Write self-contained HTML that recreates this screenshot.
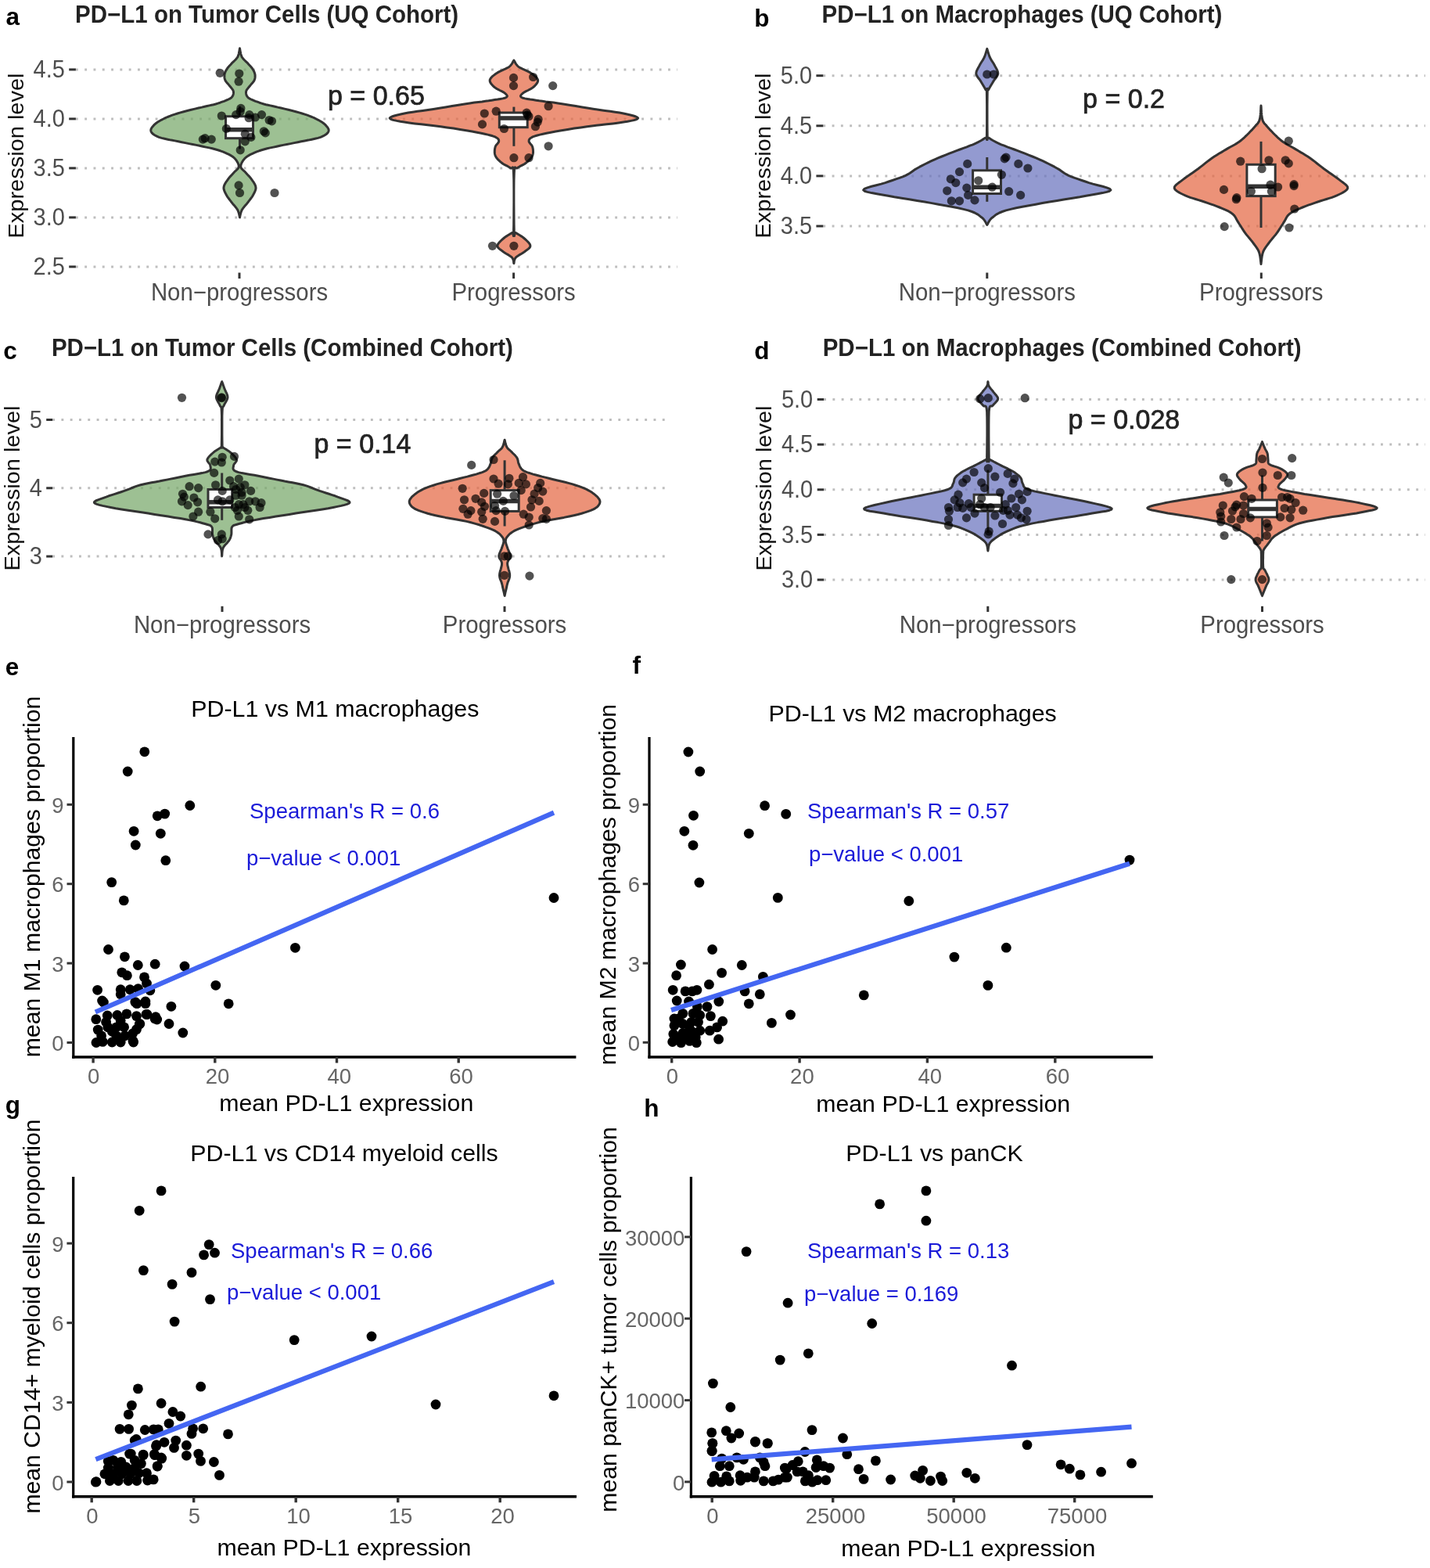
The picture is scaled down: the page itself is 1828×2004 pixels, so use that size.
<!DOCTYPE html>
<html><head><meta charset="utf-8"><title>PD-L1 figure</title>
<style>html,body{margin:0;padding:0;background:#fff;} svg{display:block;} text{font-family:"Liberation Sans", Arial, Helvetica, sans-serif;}</style>
</head><body>
<svg xmlns="http://www.w3.org/2000/svg" width="1828" height="2004" viewBox="0 0 1828 2004">
<rect width="1828" height="2004" fill="#fff"/>
<text x="7.4" y="32.0" font-size="31.5" fill="#000" font-weight="bold">a</text>
<text x="0" y="0" font-size="29.5" fill="#222" font-weight="bold" transform="translate(96.10 29.10) scale(1 1.045)">PD−L1 on Tumor Cells (UQ Cohort)</text>
<line x1="96.9" y1="88.9" x2="866.0" y2="88.9" stroke="#BEBEBE" stroke-width="3" stroke-dasharray="2.9 8.4"/>
<line x1="88.2" y1="88.9" x2="96.9" y2="88.9" stroke="#333" stroke-width="3"/>
<text x="0" y="0" font-size="29" fill="#4D4D4D" text-anchor="end" transform="translate(82.90 99.20) scale(1 1.055)">4.5</text>
<line x1="96.9" y1="151.9" x2="866.0" y2="151.9" stroke="#BEBEBE" stroke-width="3" stroke-dasharray="2.9 8.4"/>
<line x1="88.2" y1="151.9" x2="96.9" y2="151.9" stroke="#333" stroke-width="3"/>
<text x="0" y="0" font-size="29" fill="#4D4D4D" text-anchor="end" transform="translate(82.90 162.20) scale(1 1.055)">4.0</text>
<line x1="96.9" y1="214.9" x2="866.0" y2="214.9" stroke="#BEBEBE" stroke-width="3" stroke-dasharray="2.9 8.4"/>
<line x1="88.2" y1="214.9" x2="96.9" y2="214.9" stroke="#333" stroke-width="3"/>
<text x="0" y="0" font-size="29" fill="#4D4D4D" text-anchor="end" transform="translate(82.90 225.20) scale(1 1.055)">3.5</text>
<line x1="96.9" y1="277.9" x2="866.0" y2="277.9" stroke="#BEBEBE" stroke-width="3" stroke-dasharray="2.9 8.4"/>
<line x1="88.2" y1="277.9" x2="96.9" y2="277.9" stroke="#333" stroke-width="3"/>
<text x="0" y="0" font-size="29" fill="#4D4D4D" text-anchor="end" transform="translate(82.90 288.20) scale(1 1.055)">3.0</text>
<line x1="96.9" y1="340.9" x2="866.0" y2="340.9" stroke="#BEBEBE" stroke-width="3" stroke-dasharray="2.9 8.4"/>
<line x1="88.2" y1="340.9" x2="96.9" y2="340.9" stroke="#333" stroke-width="3"/>
<text x="0" y="0" font-size="29" fill="#4D4D4D" text-anchor="end" transform="translate(82.90 351.20) scale(1 1.055)">2.5</text>
<line x1="306.0" y1="348.5" x2="306.0" y2="356.0" stroke="#333" stroke-width="3"/>
<text x="0" y="0" font-size="29.4" fill="#4D4D4D" text-anchor="middle" transform="translate(306.00 383.70) scale(1 1.055)">Non−progressors</text>
<line x1="656.6" y1="348.5" x2="656.6" y2="356.0" stroke="#333" stroke-width="3"/>
<text x="0" y="0" font-size="29.4" fill="#4D4D4D" text-anchor="middle" transform="translate(656.60 383.70) scale(1 1.055)">Progressors</text>
<text x="0" y="0" font-size="27.5" fill="#111" text-anchor="middle" transform="translate(29.50 199.00) scale(1 1.055) rotate(-90)">Expression level</text>
<text x="964.2" y="34.0" font-size="31.5" fill="#000" font-weight="bold">b</text>
<text x="0" y="0" font-size="29.5" fill="#222" font-weight="bold" transform="translate(1050.50 29.30) scale(1 1.045)">PD−L1 on Macrophages (UQ Cohort)</text>
<line x1="1052.3" y1="96.7" x2="1822.0" y2="96.7" stroke="#BEBEBE" stroke-width="3" stroke-dasharray="2.9 8.4"/>
<line x1="1043.4" y1="96.7" x2="1052.3" y2="96.7" stroke="#333" stroke-width="3"/>
<text x="0" y="0" font-size="29" fill="#4D4D4D" text-anchor="end" transform="translate(1038.10 107.00) scale(1 1.055)">5.0</text>
<line x1="1052.3" y1="160.8" x2="1822.0" y2="160.8" stroke="#BEBEBE" stroke-width="3" stroke-dasharray="2.9 8.4"/>
<line x1="1043.4" y1="160.8" x2="1052.3" y2="160.8" stroke="#333" stroke-width="3"/>
<text x="0" y="0" font-size="29" fill="#4D4D4D" text-anchor="end" transform="translate(1038.10 171.10) scale(1 1.055)">4.5</text>
<line x1="1052.3" y1="224.9" x2="1822.0" y2="224.9" stroke="#BEBEBE" stroke-width="3" stroke-dasharray="2.9 8.4"/>
<line x1="1043.4" y1="224.9" x2="1052.3" y2="224.9" stroke="#333" stroke-width="3"/>
<text x="0" y="0" font-size="29" fill="#4D4D4D" text-anchor="end" transform="translate(1038.10 235.20) scale(1 1.055)">4.0</text>
<line x1="1052.3" y1="289.0" x2="1822.0" y2="289.0" stroke="#BEBEBE" stroke-width="3" stroke-dasharray="2.9 8.4"/>
<line x1="1043.4" y1="289.0" x2="1052.3" y2="289.0" stroke="#333" stroke-width="3"/>
<text x="0" y="0" font-size="29" fill="#4D4D4D" text-anchor="end" transform="translate(1038.10 299.30) scale(1 1.055)">3.5</text>
<line x1="1261.8" y1="348.5" x2="1261.8" y2="356.0" stroke="#333" stroke-width="3"/>
<text x="0" y="0" font-size="29.4" fill="#4D4D4D" text-anchor="middle" transform="translate(1261.80 383.50) scale(1 1.055)">Non−progressors</text>
<line x1="1612.3" y1="348.5" x2="1612.3" y2="356.0" stroke="#333" stroke-width="3"/>
<text x="0" y="0" font-size="29.4" fill="#4D4D4D" text-anchor="middle" transform="translate(1612.30 383.50) scale(1 1.055)">Progressors</text>
<text x="0" y="0" font-size="27.5" fill="#111" text-anchor="middle" transform="translate(985.30 199.00) scale(1 1.055) rotate(-90)">Expression level</text>
<text x="4.2" y="459.0" font-size="31.5" fill="#000" font-weight="bold">c</text>
<text x="0" y="0" font-size="29.5" fill="#222" font-weight="bold" transform="translate(65.90 454.90) scale(1 1.045)">PD−L1 on Tumor Cells (Combined Cohort)</text>
<line x1="67.1" y1="536.5" x2="858.0" y2="536.5" stroke="#BEBEBE" stroke-width="3" stroke-dasharray="2.9 8.4"/>
<line x1="59.2" y1="536.5" x2="67.1" y2="536.5" stroke="#333" stroke-width="3"/>
<text x="0" y="0" font-size="29" fill="#4D4D4D" text-anchor="end" transform="translate(54.00 546.80) scale(1 1.055)">5</text>
<line x1="67.1" y1="623.8" x2="858.0" y2="623.8" stroke="#BEBEBE" stroke-width="3" stroke-dasharray="2.9 8.4"/>
<line x1="59.2" y1="623.8" x2="67.1" y2="623.8" stroke="#333" stroke-width="3"/>
<text x="0" y="0" font-size="29" fill="#4D4D4D" text-anchor="end" transform="translate(54.00 634.10) scale(1 1.055)">4</text>
<line x1="67.1" y1="711.1" x2="858.0" y2="711.1" stroke="#BEBEBE" stroke-width="3" stroke-dasharray="2.9 8.4"/>
<line x1="59.2" y1="711.1" x2="67.1" y2="711.1" stroke="#333" stroke-width="3"/>
<text x="0" y="0" font-size="29" fill="#4D4D4D" text-anchor="end" transform="translate(54.00 721.40) scale(1 1.055)">3</text>
<line x1="284.0" y1="774.8" x2="284.0" y2="782.0" stroke="#333" stroke-width="3"/>
<text x="0" y="0" font-size="29.4" fill="#4D4D4D" text-anchor="middle" transform="translate(284.00 808.80) scale(1 1.055)">Non−progressors</text>
<line x1="645.0" y1="774.8" x2="645.0" y2="782.0" stroke="#333" stroke-width="3"/>
<text x="0" y="0" font-size="29.4" fill="#4D4D4D" text-anchor="middle" transform="translate(645.00 808.80) scale(1 1.055)">Progressors</text>
<text x="0" y="0" font-size="27.5" fill="#111" text-anchor="middle" transform="translate(24.50 624.00) scale(1 1.055) rotate(-90)">Expression level</text>
<text x="964.2" y="459.0" font-size="31.5" fill="#000" font-weight="bold">d</text>
<text x="0" y="0" font-size="29.5" fill="#222" font-weight="bold" transform="translate(1051.70 454.90) scale(1 1.045)">PD−L1 on Macrophages (Combined Cohort)</text>
<line x1="1053.1" y1="510.5" x2="1822.0" y2="510.5" stroke="#BEBEBE" stroke-width="3" stroke-dasharray="2.9 8.4"/>
<line x1="1044.7" y1="510.5" x2="1053.1" y2="510.5" stroke="#333" stroke-width="3"/>
<text x="0" y="0" font-size="29" fill="#4D4D4D" text-anchor="end" transform="translate(1039.20 520.80) scale(1 1.055)">5.0</text>
<line x1="1053.1" y1="568.1" x2="1822.0" y2="568.1" stroke="#BEBEBE" stroke-width="3" stroke-dasharray="2.9 8.4"/>
<line x1="1044.7" y1="568.1" x2="1053.1" y2="568.1" stroke="#333" stroke-width="3"/>
<text x="0" y="0" font-size="29" fill="#4D4D4D" text-anchor="end" transform="translate(1039.20 578.40) scale(1 1.055)">4.5</text>
<line x1="1053.1" y1="625.8" x2="1822.0" y2="625.8" stroke="#BEBEBE" stroke-width="3" stroke-dasharray="2.9 8.4"/>
<line x1="1044.7" y1="625.8" x2="1053.1" y2="625.8" stroke="#333" stroke-width="3"/>
<text x="0" y="0" font-size="29" fill="#4D4D4D" text-anchor="end" transform="translate(1039.20 636.10) scale(1 1.055)">4.0</text>
<line x1="1053.1" y1="683.4" x2="1822.0" y2="683.4" stroke="#BEBEBE" stroke-width="3" stroke-dasharray="2.9 8.4"/>
<line x1="1044.7" y1="683.4" x2="1053.1" y2="683.4" stroke="#333" stroke-width="3"/>
<text x="0" y="0" font-size="29" fill="#4D4D4D" text-anchor="end" transform="translate(1039.20 693.70) scale(1 1.055)">3.5</text>
<line x1="1053.1" y1="741.0" x2="1822.0" y2="741.0" stroke="#BEBEBE" stroke-width="3" stroke-dasharray="2.9 8.4"/>
<line x1="1044.7" y1="741.0" x2="1053.1" y2="741.0" stroke="#333" stroke-width="3"/>
<text x="0" y="0" font-size="29" fill="#4D4D4D" text-anchor="end" transform="translate(1039.20 751.30) scale(1 1.055)">3.0</text>
<line x1="1262.8" y1="774.8" x2="1262.8" y2="782.0" stroke="#333" stroke-width="3"/>
<text x="0" y="0" font-size="29.4" fill="#4D4D4D" text-anchor="middle" transform="translate(1262.80 808.50) scale(1 1.055)">Non−progressors</text>
<line x1="1613.5" y1="774.8" x2="1613.5" y2="782.0" stroke="#333" stroke-width="3"/>
<text x="0" y="0" font-size="29.4" fill="#4D4D4D" text-anchor="middle" transform="translate(1613.50 808.50) scale(1 1.055)">Progressors</text>
<text x="0" y="0" font-size="27.5" fill="#111" text-anchor="middle" transform="translate(985.80 624.00) scale(1 1.055) rotate(-90)">Expression level</text>
<path d="M306.5,61.8 L306.7,63.0 L307.0,64.7 L307.3,66.7 L307.8,68.8 L308.4,70.9 L309.2,72.8 L310.4,74.5 L311.9,76.2 L313.5,77.8 L315.2,79.4 L316.8,80.9 L318.1,82.4 L319.3,83.7 L320.3,84.8 L321.3,85.9 L322.1,87.0 L322.9,88.1 L323.6,89.2 L324.2,90.3 L324.8,91.5 L325.2,92.6 L325.6,93.7 L325.9,94.9 L326.1,96.0 L326.1,97.2 L326.1,98.3 L326.0,99.4 L325.8,100.6 L325.4,101.7 L325.0,102.9 L324.3,104.0 L323.4,105.1 L322.5,106.3 L321.4,107.4 L320.4,108.6 L319.5,109.7 L318.6,110.8 L317.6,112.0 L316.7,113.1 L315.8,114.3 L315.1,115.4 L314.7,116.5 L314.5,117.7 L314.5,118.9 L314.7,120.1 L315.0,121.3 L315.5,122.4 L316.1,123.4 L316.7,124.2 L317.4,124.9 L318.3,125.5 L319.3,126.1 L320.6,126.8 L322.2,127.5 L324.2,128.3 L326.5,129.3 L329.0,130.2 L331.7,131.2 L334.5,132.1 L337.3,133.0 L340.0,133.7 L342.6,134.3 L345.4,134.9 L348.3,135.5 L351.5,136.2 L355.1,137.1 L359.2,138.0 L363.8,139.1 L368.6,140.3 L373.5,141.5 L378.2,142.7 L382.4,143.9 L386.1,145.0 L389.6,146.1 L392.8,147.2 L395.9,148.4 L398.8,149.5 L401.5,150.7 L404.2,152.0 L406.8,153.3 L409.3,154.7 L411.5,156.1 L413.5,157.5 L415.2,158.9 L416.7,160.4 L418.0,161.9 L419.1,163.4 L419.9,164.9 L420.2,166.4 L420.0,167.8 L419.3,169.2 L418.2,170.5 L416.7,171.8 L414.8,173.0 L412.5,174.2 L409.8,175.4 L406.5,176.4 L402.7,177.3 L398.5,178.2 L394.1,179.1 L389.6,179.9 L385.1,180.8 L380.7,181.7 L376.1,182.6 L371.4,183.6 L366.7,184.5 L362.1,185.4 L357.8,186.3 L353.6,187.2 L349.5,188.1 L345.5,188.9 L341.6,189.8 L338.0,190.8 L334.5,191.8 L331.3,192.8 L328.2,193.9 L325.3,195.1 L322.7,196.3 L320.3,197.4 L318.1,198.6 L316.3,199.7 L314.8,200.8 L313.5,201.9 L312.4,203.1 L311.5,204.2 L310.6,205.4 L309.8,206.7 L309.0,208.1 L308.4,209.5 L307.9,211.0 L307.8,212.3 L307.9,213.6 L308.4,214.8 L309.2,215.9 L310.3,217.0 L311.5,218.1 L312.8,219.2 L314.0,220.5 L315.3,221.9 L316.7,223.5 L318.2,225.1 L319.7,226.8 L321.0,228.4 L322.2,230.1 L323.3,231.7 L324.4,233.2 L325.3,234.8 L326.2,236.4 L326.7,238.0 L327.0,239.6 L327.0,241.2 L326.6,242.8 L326.0,244.4 L325.3,246.0 L324.5,247.6 L323.6,249.2 L322.7,250.8 L321.6,252.4 L320.4,254.0 L319.2,255.6 L318.0,257.2 L316.8,258.8 L315.5,260.4 L314.1,262.0 L312.7,263.6 L311.4,265.2 L310.2,266.8 L309.2,268.3 L308.5,270.1 L307.9,271.9 L307.4,273.7 L307.0,275.4 L306.7,276.9 L306.5,277.9 L306.5,277.9 L306.3,276.9 L306.0,275.4 L305.6,273.7 L305.1,271.9 L304.5,270.1 L303.8,268.3 L302.8,266.8 L301.6,265.2 L300.3,263.6 L298.9,262.0 L297.5,260.4 L296.2,258.8 L295.0,257.2 L293.8,255.6 L292.6,254.0 L291.4,252.4 L290.3,250.8 L289.4,249.2 L288.5,247.6 L287.7,246.0 L287.0,244.4 L286.4,242.8 L286.0,241.2 L286.0,239.6 L286.3,238.0 L286.8,236.4 L287.7,234.8 L288.6,233.2 L289.7,231.7 L290.8,230.1 L292.0,228.4 L293.3,226.8 L294.8,225.1 L296.3,223.5 L297.7,221.9 L299.0,220.5 L300.2,219.2 L301.5,218.1 L302.7,217.0 L303.8,215.9 L304.6,214.8 L305.1,213.6 L305.2,212.3 L305.1,211.0 L304.6,209.5 L304.0,208.1 L303.2,206.7 L302.4,205.4 L301.5,204.2 L300.6,203.1 L299.5,201.9 L298.2,200.8 L296.7,199.7 L294.9,198.6 L292.7,197.4 L290.3,196.3 L287.7,195.1 L284.8,193.9 L281.7,192.8 L278.5,191.8 L275.0,190.8 L271.4,189.8 L267.5,188.9 L263.5,188.1 L259.4,187.2 L255.2,186.3 L250.9,185.4 L246.3,184.5 L241.6,183.6 L236.9,182.6 L232.3,181.7 L227.9,180.8 L223.4,179.9 L218.9,179.1 L214.5,178.2 L210.3,177.3 L206.5,176.4 L203.2,175.4 L200.5,174.2 L198.2,173.0 L196.3,171.8 L194.8,170.5 L193.7,169.2 L193.0,167.8 L192.8,166.4 L193.1,164.9 L193.9,163.4 L195.0,161.9 L196.3,160.4 L197.8,158.9 L199.5,157.5 L201.5,156.1 L203.7,154.7 L206.2,153.3 L208.8,152.0 L211.5,150.7 L214.2,149.5 L217.1,148.4 L220.2,147.2 L223.4,146.1 L226.9,145.0 L230.6,143.9 L234.8,142.7 L239.5,141.5 L244.4,140.3 L249.2,139.1 L253.8,138.0 L257.9,137.1 L261.5,136.2 L264.7,135.5 L267.6,134.9 L270.4,134.3 L273.0,133.7 L275.7,133.0 L278.5,132.1 L281.3,131.2 L284.0,130.2 L286.5,129.3 L288.8,128.3 L290.8,127.5 L292.4,126.8 L293.7,126.1 L294.7,125.5 L295.6,124.9 L296.3,124.2 L296.9,123.4 L297.5,122.4 L298.0,121.3 L298.3,120.1 L298.5,118.9 L298.5,117.7 L298.3,116.5 L297.9,115.4 L297.2,114.3 L296.3,113.1 L295.4,112.0 L294.4,110.8 L293.5,109.7 L292.6,108.6 L291.6,107.4 L290.5,106.3 L289.6,105.1 L288.7,104.0 L288.0,102.9 L287.6,101.7 L287.2,100.6 L287.0,99.4 L286.9,98.3 L286.9,97.2 L286.9,96.0 L287.1,94.9 L287.4,93.7 L287.8,92.6 L288.2,91.5 L288.8,90.3 L289.4,89.2 L290.1,88.1 L290.9,87.0 L291.7,85.9 L292.7,84.8 L293.7,83.7 L294.9,82.4 L296.2,80.9 L297.8,79.4 L299.5,77.8 L301.1,76.2 L302.6,74.5 L303.8,72.8 L304.6,70.9 L305.2,68.8 L305.7,66.7 L306.0,64.7 L306.3,63.0 L306.5,61.8 Z" fill="#77a869" fill-opacity="0.72" stroke="#333" stroke-width="3" stroke-linejoin="round"/>
<path d="M656.9,77.1 L657.5,78.0 L658.2,79.3 L659.0,80.8 L660.1,82.4 L661.4,84.0 L663.0,85.5 L665.1,86.7 L667.5,87.9 L670.3,89.1 L673.0,90.3 L675.6,91.6 L677.9,92.9 L680.0,94.3 L682.1,95.9 L684.1,97.4 L685.7,99.0 L686.9,100.6 L687.6,102.2 L687.6,103.8 L687.0,105.4 L686.0,107.0 L684.7,108.5 L683.2,110.1 L681.6,111.5 L679.7,112.9 L677.4,114.2 L674.9,115.5 L672.4,116.7 L670.2,117.8 L668.6,118.9 L667.4,120.0 L666.4,121.0 L665.7,122.0 L665.4,122.9 L665.8,123.7 L666.8,124.5 L668.6,125.3 L671.1,125.9 L674.2,126.5 L677.7,127.1 L681.5,127.6 L685.4,128.2 L689.3,128.8 L693.3,129.3 L697.6,129.9 L702.2,130.4 L707.4,131.1 L713.3,132.0 L720.0,133.0 L727.7,134.2 L735.9,135.6 L744.3,136.9 L752.3,138.2 L759.8,139.4 L766.7,140.4 L773.5,141.4 L780.1,142.3 L786.3,143.2 L792.0,144.1 L797.0,145.0 L801.6,146.0 L805.9,147.0 L809.8,148.0 L812.8,149.0 L814.8,150.0 L815.6,150.9 L814.9,151.8 L813.2,152.7 L810.3,153.6 L806.6,154.4 L802.1,155.3 L797.0,156.1 L790.8,157.0 L783.5,157.9 L775.5,158.8 L767.0,159.7 L758.5,160.7 L750.5,161.7 L742.4,162.9 L734.1,164.1 L725.7,165.4 L717.7,166.8 L710.3,168.0 L704.0,169.2 L698.6,170.2 L694.1,171.2 L690.2,172.1 L686.9,173.0 L684.1,173.8 L681.6,174.7 L679.6,175.7 L678.2,176.5 L677.2,177.4 L676.5,178.3 L676.2,179.3 L676.1,180.3 L676.3,181.4 L677.0,182.5 L678.0,183.7 L679.1,184.9 L680.1,186.3 L680.7,187.8 L681.1,189.4 L681.4,191.3 L681.5,193.2 L681.5,195.2 L681.2,197.1 L680.7,198.9 L679.8,200.6 L678.6,202.3 L677.2,203.9 L675.6,205.4 L674.0,206.9 L672.3,208.2 L670.6,209.5 L668.6,210.6 L666.5,211.7 L664.5,212.7 L662.7,213.7 L661.2,214.7 L660.1,215.0 L659.2,214.4 L658.5,213.8 L658.0,214.1 L657.6,216.2 L657.3,221.2 L657.0,230.6 L656.9,243.7 L656.9,258.7 L657.0,273.7 L657.1,286.7 L657.3,295.7 L657.4,300.1 L657.5,301.4 L657.6,300.8 L657.9,299.2 L658.4,297.7 L659.3,297.5 L660.7,298.4 L662.5,299.5 L664.6,300.8 L666.7,302.1 L668.7,303.5 L670.5,305.0 L672.1,306.4 L673.8,308.0 L675.4,309.6 L676.7,311.2 L677.6,312.8 L677.9,314.3 L677.6,315.6 L676.7,316.9 L675.4,318.1 L673.8,319.3 L672.1,320.5 L670.5,321.7 L668.7,322.9 L666.7,324.2 L664.6,325.4 L662.5,326.7 L660.7,327.9 L659.3,329.1 L658.4,330.5 L657.8,331.9 L657.4,333.3 L657.2,334.6 L657.1,335.8 L656.9,336.6 L656.9,336.6 L656.7,335.8 L656.6,334.6 L656.4,333.3 L656.0,331.9 L655.4,330.5 L654.5,329.1 L653.1,327.9 L651.3,326.7 L649.2,325.4 L647.1,324.2 L645.1,322.9 L643.3,321.7 L641.7,320.5 L640.0,319.3 L638.4,318.1 L637.1,316.9 L636.2,315.6 L635.9,314.3 L636.2,312.8 L637.1,311.2 L638.4,309.6 L640.0,308.0 L641.7,306.4 L643.3,305.0 L645.1,303.5 L647.1,302.1 L649.2,300.8 L651.3,299.5 L653.1,298.4 L654.5,297.5 L655.4,297.7 L655.9,299.2 L656.2,300.8 L656.3,301.4 L656.4,300.1 L656.5,295.7 L656.7,286.7 L656.8,273.7 L656.9,258.7 L656.9,243.7 L656.8,230.6 L656.5,221.2 L656.2,216.2 L655.8,214.1 L655.3,213.8 L654.6,214.4 L653.7,215.0 L652.6,214.7 L651.1,213.7 L649.3,212.7 L647.3,211.7 L645.2,210.6 L643.2,209.5 L641.5,208.2 L639.8,206.9 L638.2,205.4 L636.6,203.9 L635.2,202.3 L634.0,200.6 L633.1,198.9 L632.6,197.1 L632.3,195.2 L632.3,193.2 L632.4,191.3 L632.7,189.4 L633.1,187.8 L633.7,186.3 L634.7,184.9 L635.8,183.7 L636.8,182.5 L637.5,181.4 L637.7,180.3 L637.6,179.3 L637.3,178.3 L636.6,177.4 L635.6,176.5 L634.2,175.7 L632.2,174.7 L629.7,173.8 L626.9,173.0 L623.6,172.1 L619.7,171.2 L615.2,170.2 L609.8,169.2 L603.5,168.0 L596.1,166.8 L588.1,165.4 L579.7,164.1 L571.4,162.9 L563.3,161.7 L555.3,160.7 L546.8,159.7 L538.3,158.8 L530.3,157.9 L523.0,157.0 L516.8,156.1 L511.7,155.3 L507.2,154.4 L503.5,153.6 L500.6,152.7 L498.9,151.8 L498.2,150.9 L499.0,150.0 L501.0,149.0 L504.0,148.0 L507.9,147.0 L512.2,146.0 L516.8,145.0 L521.8,144.1 L527.5,143.2 L533.7,142.3 L540.3,141.4 L547.1,140.4 L554.0,139.4 L561.5,138.2 L569.5,136.9 L577.9,135.6 L586.1,134.2 L593.8,133.0 L600.5,132.0 L606.4,131.1 L611.6,130.4 L616.2,129.9 L620.5,129.3 L624.5,128.8 L628.4,128.2 L632.3,127.6 L636.1,127.1 L639.6,126.5 L642.7,125.9 L645.2,125.3 L647.0,124.5 L648.0,123.7 L648.4,122.9 L648.1,122.0 L647.4,121.0 L646.4,120.0 L645.2,118.9 L643.6,117.8 L641.4,116.7 L638.9,115.5 L636.4,114.2 L634.1,112.9 L632.2,111.5 L630.6,110.1 L629.1,108.5 L627.8,107.0 L626.8,105.4 L626.2,103.8 L626.2,102.2 L626.9,100.6 L628.1,99.0 L629.7,97.4 L631.7,95.9 L633.8,94.3 L635.9,92.9 L638.2,91.6 L640.8,90.3 L643.5,89.1 L646.3,87.9 L648.7,86.7 L650.8,85.5 L652.4,84.0 L653.7,82.4 L654.8,80.8 L655.6,79.3 L656.3,78.0 L656.9,77.1 Z" fill="#e56844" fill-opacity="0.72" stroke="#333" stroke-width="3" stroke-linejoin="round"/>
<path d="M1261.8,62.4 L1262.2,63.7 L1262.7,65.4 L1263.3,67.4 L1264.0,69.6 L1264.7,71.7 L1265.5,73.6 L1266.4,75.2 L1267.3,76.8 L1268.3,78.3 L1269.2,79.7 L1270.2,81.3 L1271.1,82.9 L1272.0,84.7 L1273.1,86.6 L1274.1,88.5 L1275.0,90.4 L1275.6,92.3 L1275.8,94.1 L1275.4,95.7 L1274.7,97.2 L1273.7,98.7 L1272.5,100.2 L1271.3,101.7 L1270.2,103.4 L1269.1,105.2 L1267.9,107.2 L1266.7,109.3 L1265.5,111.3 L1264.5,113.1 L1263.7,114.5 L1263.1,115.0 L1262.7,114.4 L1262.5,113.6 L1262.4,113.4 L1262.3,114.7 L1262.2,118.2 L1262.1,125.2 L1262.0,135.0 L1262.0,146.3 L1262.0,157.5 L1262.1,167.3 L1262.2,174.0 L1262.2,177.4 L1262.1,178.5 L1262.1,178.0 L1262.3,176.9 L1262.7,175.9 L1263.7,175.9 L1265.0,176.8 L1266.7,177.9 L1268.8,179.2 L1271.1,180.5 L1273.7,181.9 L1276.7,183.3 L1280.0,184.8 L1283.8,186.2 L1287.8,187.8 L1292.1,189.3 L1296.5,191.0 L1300.9,192.6 L1305.4,194.4 L1310.1,196.2 L1314.9,198.1 L1319.7,200.0 L1324.4,201.9 L1328.8,203.8 L1332.9,205.7 L1336.9,207.6 L1340.7,209.5 L1344.4,211.4 L1347.9,213.2 L1351.1,215.0 L1353.9,216.6 L1356.2,218.2 L1358.3,219.7 L1360.5,221.2 L1362.9,222.7 L1366.0,224.3 L1369.6,225.8 L1373.8,227.4 L1378.2,228.9 L1382.8,230.5 L1387.4,232.0 L1392.0,233.6 L1397.2,235.1 L1403.4,236.7 L1409.6,238.3 L1414.9,239.9 L1418.7,241.4 L1419.9,242.9 L1418.4,244.2 L1414.7,245.4 L1409.3,246.6 L1402.8,247.8 L1395.6,249.0 L1388.3,250.3 L1380.3,251.8 L1371.1,253.3 L1361.3,254.8 L1351.3,256.4 L1341.5,258.0 L1332.5,259.6 L1323.9,261.2 L1315.2,262.7 L1306.8,264.3 L1299.0,265.8 L1292.0,267.4 L1286.0,268.9 L1281.2,270.5 L1277.5,272.0 L1274.6,273.6 L1272.3,275.1 L1270.3,276.7 L1268.3,278.2 L1266.5,279.9 L1265.1,281.7 L1264.0,283.4 L1263.1,285.1 L1262.4,286.5 L1261.8,287.5 L1261.8,287.5 L1261.2,286.5 L1260.5,285.1 L1259.6,283.4 L1258.5,281.7 L1257.1,279.9 L1255.3,278.2 L1253.3,276.7 L1251.3,275.1 L1249.0,273.6 L1246.1,272.0 L1242.4,270.5 L1237.6,268.9 L1231.6,267.4 L1224.6,265.8 L1216.8,264.3 L1208.4,262.7 L1199.7,261.2 L1191.1,259.6 L1182.1,258.0 L1172.3,256.4 L1162.3,254.8 L1152.5,253.3 L1143.3,251.8 L1135.3,250.3 L1128.0,249.0 L1120.8,247.8 L1114.3,246.6 L1108.9,245.4 L1105.2,244.2 L1103.7,242.9 L1104.9,241.4 L1108.7,239.9 L1114.0,238.3 L1120.2,236.7 L1126.4,235.1 L1131.6,233.6 L1136.2,232.0 L1140.8,230.5 L1145.4,228.9 L1149.8,227.4 L1154.0,225.8 L1157.6,224.3 L1160.7,222.7 L1163.1,221.2 L1165.3,219.7 L1167.4,218.2 L1169.7,216.6 L1172.5,215.0 L1175.7,213.2 L1179.2,211.4 L1182.9,209.5 L1186.7,207.6 L1190.7,205.7 L1194.8,203.8 L1199.2,201.9 L1203.9,200.0 L1208.7,198.1 L1213.5,196.2 L1218.2,194.4 L1222.7,192.6 L1227.1,191.0 L1231.5,189.3 L1235.8,187.8 L1239.8,186.2 L1243.6,184.8 L1246.9,183.3 L1249.9,181.9 L1252.5,180.5 L1254.8,179.2 L1256.9,177.9 L1258.6,176.8 L1259.9,175.9 L1260.9,175.9 L1261.3,176.9 L1261.5,178.0 L1261.5,178.5 L1261.4,177.4 L1261.4,174.0 L1261.5,167.3 L1261.6,157.5 L1261.6,146.3 L1261.6,135.0 L1261.5,125.2 L1261.4,118.2 L1261.3,114.7 L1261.2,113.4 L1261.1,113.6 L1260.9,114.4 L1260.5,115.0 L1259.9,114.5 L1259.1,113.1 L1258.1,111.3 L1256.9,109.3 L1255.7,107.2 L1254.5,105.2 L1253.4,103.4 L1252.3,101.7 L1251.1,100.2 L1249.9,98.7 L1248.9,97.2 L1248.2,95.7 L1247.8,94.1 L1248.0,92.3 L1248.6,90.4 L1249.5,88.5 L1250.5,86.6 L1251.6,84.7 L1252.5,82.9 L1253.4,81.3 L1254.4,79.7 L1255.3,78.3 L1256.3,76.8 L1257.2,75.2 L1258.1,73.6 L1258.9,71.7 L1259.6,69.6 L1260.3,67.4 L1260.9,65.4 L1261.4,63.7 L1261.8,62.4 Z" fill="#6a73be" fill-opacity="0.72" stroke="#333" stroke-width="3" stroke-linejoin="round"/>
<path d="M1612.0,135.0 L1612.2,137.1 L1612.3,140.0 L1612.5,143.4 L1612.8,146.9 L1613.2,150.2 L1613.8,152.8 L1614.4,154.7 L1615.2,156.2 L1616.0,157.4 L1616.9,158.4 L1618.0,159.6 L1619.2,161.0 L1620.7,162.7 L1622.3,164.5 L1624.0,166.4 L1625.9,168.3 L1627.7,170.2 L1629.5,172.0 L1631.2,173.6 L1632.9,175.3 L1634.6,176.8 L1636.4,178.4 L1638.3,180.0 L1640.4,181.5 L1642.8,183.1 L1645.5,184.7 L1648.2,186.2 L1651.1,187.8 L1654.0,189.4 L1656.9,191.1 L1659.7,192.8 L1662.7,194.6 L1665.7,196.3 L1668.7,198.2 L1671.7,200.1 L1674.6,202.1 L1677.6,204.2 L1680.5,206.4 L1683.4,208.7 L1686.4,211.1 L1689.4,213.4 L1692.4,215.7 L1695.6,218.0 L1699.0,220.4 L1702.4,222.7 L1705.7,225.1 L1708.8,227.3 L1711.6,229.4 L1714.2,231.4 L1716.8,233.3 L1719.2,235.1 L1721.2,236.9 L1722.5,238.6 L1722.8,240.4 L1722.0,242.1 L1720.2,243.7 L1717.8,245.4 L1714.9,247.0 L1711.8,248.5 L1708.8,249.9 L1705.8,251.2 L1702.6,252.4 L1699.2,253.4 L1695.6,254.5 L1692.0,255.6 L1688.3,256.8 L1684.5,258.0 L1680.5,259.4 L1676.4,260.8 L1672.4,262.2 L1668.6,263.6 L1665.1,265.0 L1661.8,266.3 L1658.8,267.6 L1655.9,268.9 L1653.2,270.2 L1650.8,271.6 L1648.7,273.2 L1646.9,274.8 L1645.5,276.5 L1644.4,278.3 L1643.4,280.2 L1642.4,282.1 L1641.1,284.1 L1639.8,286.2 L1638.3,288.5 L1636.9,290.8 L1635.4,293.1 L1633.9,295.5 L1632.2,297.8 L1630.5,300.1 L1628.6,302.4 L1626.6,304.8 L1624.7,307.1 L1622.9,309.3 L1621.3,311.5 L1619.9,313.4 L1618.6,315.2 L1617.4,316.9 L1616.3,318.6 L1615.3,320.4 L1614.5,322.4 L1613.8,324.9 L1613.2,327.7 L1612.8,330.6 L1612.5,333.4 L1612.2,335.8 L1612.0,337.5 L1612.0,337.5 L1611.8,335.8 L1611.5,333.4 L1611.2,330.6 L1610.8,327.7 L1610.2,324.9 L1609.5,322.4 L1608.7,320.4 L1607.7,318.6 L1606.6,316.9 L1605.4,315.2 L1604.1,313.4 L1602.7,311.5 L1601.1,309.3 L1599.3,307.1 L1597.4,304.8 L1595.4,302.4 L1593.5,300.1 L1591.8,297.8 L1590.1,295.5 L1588.6,293.1 L1587.1,290.8 L1585.7,288.5 L1584.2,286.2 L1582.9,284.1 L1581.6,282.1 L1580.6,280.2 L1579.6,278.3 L1578.5,276.5 L1577.1,274.8 L1575.3,273.2 L1573.2,271.6 L1570.8,270.2 L1568.1,268.9 L1565.2,267.6 L1562.2,266.3 L1558.9,265.0 L1555.4,263.6 L1551.6,262.2 L1547.6,260.8 L1543.5,259.4 L1539.5,258.0 L1535.7,256.8 L1532.0,255.6 L1528.4,254.5 L1524.8,253.4 L1521.4,252.4 L1518.2,251.2 L1515.2,249.9 L1512.2,248.5 L1509.1,247.0 L1506.2,245.4 L1503.8,243.7 L1502.0,242.1 L1501.2,240.4 L1501.5,238.6 L1502.8,236.9 L1504.8,235.1 L1507.2,233.3 L1509.8,231.4 L1512.4,229.4 L1515.2,227.3 L1518.3,225.1 L1521.6,222.7 L1525.0,220.4 L1528.4,218.0 L1531.6,215.7 L1534.6,213.4 L1537.6,211.1 L1540.6,208.7 L1543.5,206.4 L1546.4,204.2 L1549.4,202.1 L1552.3,200.1 L1555.3,198.2 L1558.3,196.3 L1561.3,194.6 L1564.3,192.8 L1567.1,191.1 L1570.0,189.4 L1572.9,187.8 L1575.8,186.2 L1578.5,184.7 L1581.2,183.1 L1583.6,181.5 L1585.7,180.0 L1587.6,178.4 L1589.4,176.8 L1591.1,175.3 L1592.8,173.6 L1594.5,172.0 L1596.3,170.2 L1598.1,168.3 L1600.0,166.4 L1601.7,164.5 L1603.3,162.7 L1604.8,161.0 L1606.0,159.6 L1607.1,158.4 L1608.0,157.4 L1608.8,156.2 L1609.6,154.7 L1610.2,152.8 L1610.8,150.2 L1611.2,146.9 L1611.5,143.4 L1611.7,140.0 L1611.8,137.1 L1612.0,135.0 Z" fill="#e56844" fill-opacity="0.72" stroke="#333" stroke-width="3" stroke-linejoin="round"/>
<path d="M283.7,487.7 L284.1,488.7 L284.6,490.1 L285.2,491.8 L285.8,493.6 L286.5,495.5 L287.1,497.2 L287.9,498.9 L288.7,500.7 L289.6,502.4 L290.3,504.2 L290.8,506.0 L291.0,507.8 L290.6,509.6 L289.9,511.4 L289.0,513.2 L287.9,515.0 L286.9,516.7 L286.2,518.3 L285.7,519.3 L285.2,519.8 L284.8,520.1 L284.5,521.0 L284.3,522.7 L284.1,526.0 L283.9,531.4 L283.9,538.9 L283.9,547.3 L283.9,555.6 L284.0,562.9 L284.1,568.1 L284.1,570.9 L284.1,572.1 L284.1,572.3 L284.3,571.9 L284.6,571.6 L285.2,571.9 L286.2,572.7 L287.6,573.5 L289.1,574.4 L290.7,575.4 L292.3,576.4 L293.8,577.6 L295.4,579.0 L297.2,580.6 L298.9,582.3 L300.5,584.0 L301.7,585.7 L302.5,587.2 L302.5,588.6 L301.9,589.9 L300.9,591.2 L299.9,592.4 L299.0,593.6 L298.6,594.9 L298.4,596.2 L298.1,597.5 L298.0,598.8 L298.4,600.1 L299.5,601.4 L301.5,602.5 L304.8,603.6 L309.2,604.6 L314.2,605.5 L319.7,606.4 L325.1,607.3 L330.2,608.3 L335.0,609.2 L339.8,610.2 L344.6,611.2 L349.4,612.1 L354.2,613.1 L358.9,614.0 L363.8,615.0 L368.8,615.9 L373.8,616.8 L378.7,617.7 L383.3,618.7 L387.7,619.8 L391.6,620.9 L395.2,622.2 L398.6,623.5 L401.8,624.8 L405.2,626.1 L408.7,627.4 L412.5,628.7 L416.5,630.0 L420.6,631.3 L424.5,632.6 L428.3,633.8 L431.7,635.1 L435.1,636.3 L438.7,637.6 L442.1,638.8 L444.9,640.0 L446.7,641.2 L447.0,642.4 L445.9,643.4 L443.7,644.4 L440.4,645.4 L436.3,646.4 L431.4,647.4 L426.0,648.5 L419.5,649.7 L412.0,650.9 L403.7,652.2 L395.0,653.5 L386.4,654.8 L378.1,656.1 L369.8,657.4 L361.3,658.8 L352.7,660.1 L344.5,661.4 L336.9,662.6 L330.2,663.8 L324.6,664.9 L319.6,665.9 L315.3,666.9 L311.6,667.8 L308.3,668.7 L305.3,669.5 L302.9,670.2 L301.0,670.8 L299.5,671.2 L298.4,671.7 L297.5,672.4 L296.7,673.4 L296.1,674.7 L295.9,676.2 L295.9,677.9 L295.9,679.7 L295.9,681.4 L295.8,682.9 L295.4,684.3 L295.1,685.6 L294.7,686.8 L294.3,688.0 L293.7,689.2 L292.9,690.6 L291.8,692.1 L290.5,693.6 L289.0,695.2 L287.5,696.8 L286.2,698.5 L285.2,700.2 L284.6,702.0 L284.2,704.0 L284.0,706.0 L283.9,707.9 L283.8,709.6 L283.7,710.7 L283.7,710.7 L283.6,709.6 L283.5,707.9 L283.4,706.0 L283.2,704.0 L282.8,702.0 L282.2,700.2 L281.2,698.5 L279.9,696.8 L278.4,695.2 L276.9,693.6 L275.6,692.1 L274.5,690.6 L273.7,689.2 L273.1,688.0 L272.7,686.8 L272.3,685.6 L272.0,684.3 L271.6,682.9 L271.5,681.4 L271.5,679.7 L271.5,677.9 L271.5,676.2 L271.3,674.7 L270.7,673.4 L269.9,672.4 L269.0,671.7 L267.9,671.2 L266.4,670.8 L264.5,670.2 L262.1,669.5 L259.1,668.7 L255.8,667.8 L252.1,666.9 L247.8,665.9 L242.8,664.9 L237.2,663.8 L230.5,662.6 L222.9,661.4 L214.7,660.1 L206.1,658.8 L197.6,657.4 L189.3,656.1 L181.0,654.8 L172.4,653.5 L163.7,652.2 L155.4,650.9 L147.9,649.7 L141.4,648.5 L136.0,647.4 L131.1,646.4 L127.0,645.4 L123.7,644.4 L121.5,643.4 L120.4,642.4 L120.7,641.2 L122.5,640.0 L125.3,638.8 L128.7,637.6 L132.3,636.3 L135.7,635.1 L139.1,633.8 L142.9,632.6 L146.8,631.3 L150.9,630.0 L154.9,628.7 L158.7,627.4 L162.2,626.1 L165.6,624.8 L168.8,623.5 L172.2,622.2 L175.8,620.9 L179.7,619.8 L184.1,618.7 L188.7,617.7 L193.6,616.8 L198.6,615.9 L203.6,615.0 L208.5,614.0 L213.2,613.1 L218.0,612.1 L222.8,611.2 L227.6,610.2 L232.4,609.2 L237.2,608.3 L242.3,607.3 L247.7,606.4 L253.2,605.5 L258.2,604.6 L262.6,603.6 L265.9,602.5 L267.9,601.4 L269.0,600.1 L269.4,598.8 L269.3,597.5 L269.0,596.2 L268.8,594.9 L268.4,593.6 L267.5,592.4 L266.5,591.2 L265.5,589.9 L264.9,588.6 L264.9,587.2 L265.7,585.7 L266.9,584.0 L268.5,582.3 L270.2,580.6 L272.0,579.0 L273.6,577.6 L275.1,576.4 L276.7,575.4 L278.3,574.4 L279.8,573.5 L281.2,572.7 L282.2,571.9 L282.8,571.6 L283.1,571.9 L283.3,572.3 L283.3,572.1 L283.3,570.9 L283.3,568.1 L283.4,562.9 L283.5,555.6 L283.5,547.3 L283.5,538.9 L283.5,531.4 L283.3,526.0 L283.1,522.7 L282.9,521.0 L282.6,520.1 L282.2,519.8 L281.7,519.3 L281.2,518.3 L280.5,516.7 L279.5,515.0 L278.4,513.2 L277.5,511.4 L276.8,509.6 L276.4,507.8 L276.6,506.0 L277.1,504.2 L277.8,502.4 L278.7,500.7 L279.5,498.9 L280.3,497.2 L280.9,495.5 L281.6,493.6 L282.2,491.8 L282.8,490.1 L283.3,488.7 L283.7,487.7 Z" fill="#77a869" fill-opacity="0.72" stroke="#333" stroke-width="3" stroke-linejoin="round"/>
<path d="M645.1,562.3 L645.4,563.3 L645.7,564.7 L646.1,566.5 L646.6,568.3 L647.2,570.0 L647.9,571.4 L648.7,572.6 L649.6,573.7 L650.7,574.6 L651.8,575.5 L652.9,576.5 L654.0,577.6 L655.1,578.8 L656.4,580.0 L657.7,581.3 L658.9,582.6 L660.0,583.9 L660.9,585.2 L661.5,586.5 L661.9,587.8 L662.2,589.1 L662.4,590.3 L662.7,591.6 L663.2,592.9 L663.7,594.2 L664.3,595.6 L664.9,596.9 L665.7,598.2 L666.6,599.4 L667.8,600.5 L669.1,601.5 L670.4,602.2 L672.0,602.9 L673.8,603.6 L675.9,604.3 L678.5,605.1 L681.5,606.1 L685.0,607.0 L688.7,608.0 L692.8,609.1 L697.0,610.1 L701.5,611.3 L706.3,612.5 L711.5,613.7 L717.0,615.0 L722.4,616.3 L727.5,617.6 L732.1,618.9 L736.1,620.2 L739.8,621.4 L743.2,622.7 L746.3,623.9 L749.3,625.2 L752.0,626.6 L754.6,628.0 L757.0,629.6 L759.2,631.2 L761.2,632.8 L762.9,634.3 L764.3,635.8 L765.3,637.1 L766.2,638.4 L766.7,639.7 L767.0,640.9 L766.9,642.2 L766.6,643.4 L766.0,644.7 L765.1,646.0 L764.0,647.3 L762.5,648.5 L760.6,649.8 L758.1,651.1 L755.2,652.4 L751.7,653.6 L747.8,654.9 L743.5,656.2 L738.8,657.5 L733.6,658.7 L727.7,660.0 L720.8,661.4 L713.5,662.7 L706.3,664.0 L699.6,665.2 L693.8,666.4 L689.1,667.5 L685.1,668.6 L681.6,669.6 L678.4,670.5 L675.4,671.5 L672.4,672.5 L669.4,673.6 L666.5,674.6 L663.8,675.6 L661.4,676.6 L659.1,677.6 L657.0,678.7 L655.3,679.7 L653.8,680.7 L652.5,681.7 L651.3,682.7 L650.3,683.8 L649.4,684.8 L648.6,685.8 L647.8,686.7 L647.2,687.7 L646.8,688.6 L646.5,689.7 L646.3,690.9 L646.4,692.2 L646.6,693.7 L647.0,695.2 L647.5,696.8 L648.1,698.4 L648.6,700.1 L649.3,701.8 L650.1,703.6 L650.9,705.5 L651.7,707.3 L652.2,709.1 L652.5,710.8 L652.2,712.4 L651.5,713.8 L650.6,715.1 L649.7,716.6 L649.0,718.1 L648.6,720.0 L648.8,722.3 L649.4,724.8 L650.1,727.6 L650.9,730.3 L651.5,733.0 L651.7,735.3 L651.5,737.3 L651.1,739.1 L650.6,740.7 L649.9,742.3 L649.2,744.0 L648.6,746.0 L648.0,748.5 L647.4,751.4 L646.7,754.4 L646.0,757.2 L645.5,759.6 L645.1,761.4 L645.1,761.4 L644.7,759.6 L644.2,757.2 L643.5,754.4 L642.8,751.4 L642.2,748.5 L641.6,746.0 L641.0,744.0 L640.3,742.3 L639.6,740.7 L639.1,739.1 L638.7,737.3 L638.5,735.3 L638.7,733.0 L639.3,730.3 L640.1,727.6 L640.8,724.8 L641.4,722.3 L641.6,720.0 L641.2,718.1 L640.5,716.6 L639.6,715.1 L638.7,713.8 L638.0,712.4 L637.7,710.8 L638.0,709.1 L638.5,707.3 L639.3,705.5 L640.1,703.6 L640.9,701.8 L641.6,700.1 L642.1,698.4 L642.7,696.8 L643.2,695.2 L643.6,693.7 L643.8,692.2 L643.9,690.9 L643.7,689.7 L643.4,688.6 L643.0,687.7 L642.4,686.7 L641.6,685.8 L640.8,684.8 L639.9,683.8 L638.9,682.7 L637.7,681.7 L636.4,680.7 L634.9,679.7 L633.2,678.7 L631.1,677.6 L628.8,676.6 L626.4,675.6 L623.7,674.6 L620.8,673.6 L617.8,672.5 L614.8,671.5 L611.8,670.5 L608.6,669.6 L605.1,668.6 L601.1,667.5 L596.4,666.4 L590.6,665.2 L583.9,664.0 L576.7,662.7 L569.4,661.4 L562.5,660.0 L556.6,658.7 L551.4,657.5 L546.7,656.2 L542.4,654.9 L538.5,653.6 L535.0,652.4 L532.1,651.1 L529.6,649.8 L527.7,648.5 L526.2,647.3 L525.1,646.0 L524.2,644.7 L523.6,643.4 L523.3,642.2 L523.2,640.9 L523.5,639.7 L524.0,638.4 L524.9,637.1 L525.9,635.8 L527.3,634.3 L529.0,632.8 L531.0,631.2 L533.2,629.6 L535.6,628.0 L538.2,626.6 L540.9,625.2 L543.9,623.9 L547.0,622.7 L550.4,621.4 L554.1,620.2 L558.1,618.9 L562.7,617.6 L567.8,616.3 L573.2,615.0 L578.7,613.7 L583.9,612.5 L588.7,611.3 L593.2,610.1 L597.4,609.1 L601.5,608.0 L605.2,607.0 L608.7,606.1 L611.7,605.1 L614.3,604.3 L616.4,603.6 L618.2,602.9 L619.8,602.2 L621.1,601.5 L622.4,600.5 L623.6,599.4 L624.5,598.2 L625.3,596.9 L625.9,595.6 L626.5,594.2 L627.0,592.9 L627.5,591.6 L627.8,590.3 L628.0,589.1 L628.3,587.8 L628.7,586.5 L629.3,585.2 L630.2,583.9 L631.3,582.6 L632.5,581.3 L633.8,580.0 L635.1,578.8 L636.2,577.6 L637.3,576.5 L638.4,575.5 L639.5,574.6 L640.6,573.7 L641.5,572.6 L642.3,571.4 L643.0,570.0 L643.6,568.3 L644.1,566.5 L644.5,564.7 L644.8,563.3 L645.1,562.3 Z" fill="#e56844" fill-opacity="0.72" stroke="#333" stroke-width="3" stroke-linejoin="round"/>
<path d="M1262.9,487.7 L1263.0,488.3 L1263.1,489.1 L1263.2,490.1 L1263.4,491.1 L1263.7,492.3 L1264.2,493.4 L1264.9,494.6 L1265.8,495.8 L1266.8,497.1 L1267.9,498.4 L1269.0,499.7 L1270.0,501.1 L1271.1,502.4 L1272.4,503.9 L1273.6,505.3 L1274.7,506.8 L1275.5,508.2 L1275.7,509.7 L1275.3,511.1 L1274.3,512.6 L1273.0,514.0 L1271.6,515.5 L1270.2,516.9 L1269.0,518.3 L1268.1,519.0 L1267.1,519.0 L1266.2,519.0 L1265.4,519.6 L1264.7,521.7 L1264.2,526.0 L1264.0,533.5 L1263.9,544.0 L1263.9,556.0 L1264.0,567.9 L1264.1,578.1 L1264.2,585.3 L1264.2,588.9 L1264.0,590.0 L1263.8,589.5 L1263.9,588.3 L1264.3,587.2 L1265.2,587.2 L1266.8,588.2 L1269.0,589.3 L1271.5,590.7 L1274.2,592.1 L1277.0,593.5 L1279.6,594.9 L1282.1,596.2 L1284.8,597.4 L1287.5,598.7 L1290.2,600.0 L1292.6,601.3 L1294.9,602.5 L1296.9,603.8 L1298.7,605.1 L1300.4,606.4 L1302.0,607.6 L1303.3,608.9 L1304.4,610.2 L1305.3,611.5 L1305.8,612.7 L1306.1,614.0 L1306.3,615.3 L1306.7,616.6 L1307.3,617.9 L1307.9,619.1 L1308.2,620.4 L1308.7,621.7 L1309.6,623.0 L1311.3,624.2 L1314.0,625.5 L1318.1,626.8 L1323.3,628.1 L1329.3,629.3 L1335.7,630.6 L1342.2,631.9 L1348.5,633.2 L1354.7,634.4 L1361.1,635.7 L1367.6,636.9 L1374.2,638.2 L1380.6,639.5 L1386.8,640.8 L1393.4,642.3 L1400.7,643.9 L1408.0,645.5 L1414.3,647.1 L1419.0,648.6 L1421.2,650.0 L1420.8,651.2 L1418.2,652.2 L1413.9,653.2 L1408.5,654.1 L1402.5,655.1 L1396.3,656.1 L1389.6,657.3 L1381.8,658.6 L1373.4,659.9 L1364.7,661.2 L1356.3,662.5 L1348.5,663.8 L1341.1,665.1 L1333.8,666.4 L1326.7,667.6 L1320.0,668.9 L1313.8,670.2 L1308.3,671.5 L1303.6,672.7 L1299.6,674.0 L1296.1,675.3 L1293.0,676.6 L1290.1,677.8 L1287.2,679.1 L1284.5,680.4 L1282.0,681.7 L1279.7,682.9 L1277.6,684.2 L1275.7,685.5 L1273.8,686.8 L1272.0,688.0 L1270.4,689.3 L1268.8,690.5 L1267.4,691.7 L1266.2,693.0 L1265.2,694.4 L1264.4,696.0 L1263.9,697.8 L1263.5,699.7 L1263.3,701.5 L1263.1,702.9 L1262.9,704.0 L1262.9,704.0 L1262.7,702.9 L1262.5,701.5 L1262.3,699.7 L1261.9,697.8 L1261.4,696.0 L1260.6,694.4 L1259.6,693.0 L1258.4,691.7 L1257.0,690.5 L1255.4,689.3 L1253.8,688.0 L1252.0,686.8 L1250.1,685.5 L1248.2,684.2 L1246.1,682.9 L1243.8,681.7 L1241.3,680.4 L1238.6,679.1 L1235.7,677.8 L1232.8,676.6 L1229.7,675.3 L1226.2,674.0 L1222.2,672.7 L1217.5,671.5 L1212.0,670.2 L1205.8,668.9 L1199.1,667.6 L1192.0,666.4 L1184.7,665.1 L1177.3,663.8 L1169.5,662.5 L1161.1,661.2 L1152.4,659.9 L1144.0,658.6 L1136.2,657.3 L1129.5,656.1 L1123.3,655.1 L1117.3,654.1 L1111.9,653.2 L1107.6,652.2 L1105.0,651.2 L1104.6,650.0 L1106.8,648.6 L1111.5,647.1 L1117.8,645.5 L1125.1,643.9 L1132.4,642.3 L1139.0,640.8 L1145.2,639.5 L1151.6,638.2 L1158.2,636.9 L1164.7,635.7 L1171.1,634.4 L1177.3,633.2 L1183.6,631.9 L1190.1,630.6 L1196.5,629.3 L1202.5,628.1 L1207.7,626.8 L1211.8,625.5 L1214.5,624.2 L1216.2,623.0 L1217.1,621.7 L1217.6,620.4 L1217.9,619.1 L1218.5,617.9 L1219.1,616.6 L1219.5,615.3 L1219.7,614.0 L1220.0,612.7 L1220.5,611.5 L1221.4,610.2 L1222.5,608.9 L1223.8,607.6 L1225.4,606.4 L1227.1,605.1 L1228.9,603.8 L1230.9,602.5 L1233.2,601.3 L1235.6,600.0 L1238.3,598.7 L1241.0,597.4 L1243.7,596.2 L1246.2,594.9 L1248.8,593.5 L1251.6,592.1 L1254.3,590.7 L1256.8,589.3 L1259.0,588.2 L1260.6,587.2 L1261.5,587.2 L1261.9,588.3 L1262.0,589.5 L1261.8,590.0 L1261.6,588.9 L1261.6,585.3 L1261.7,578.1 L1261.8,567.9 L1261.9,556.0 L1261.9,544.0 L1261.8,533.5 L1261.6,526.0 L1261.1,521.7 L1260.4,519.6 L1259.6,519.0 L1258.7,519.0 L1257.7,519.0 L1256.8,518.3 L1255.6,516.9 L1254.2,515.5 L1252.8,514.0 L1251.5,512.6 L1250.5,511.1 L1250.1,509.7 L1250.3,508.2 L1251.1,506.8 L1252.2,505.3 L1253.4,503.9 L1254.7,502.4 L1255.8,501.1 L1256.8,499.7 L1257.9,498.4 L1259.0,497.1 L1260.0,495.8 L1260.9,494.6 L1261.6,493.4 L1262.1,492.3 L1262.4,491.1 L1262.6,490.1 L1262.7,489.1 L1262.8,488.3 L1262.9,487.7 Z" fill="#6a73be" fill-opacity="0.72" stroke="#333" stroke-width="3" stroke-linejoin="round"/>
<path d="M1613.5,564.6 L1613.8,565.5 L1614.3,566.7 L1614.9,568.1 L1615.5,569.7 L1616.1,571.2 L1616.7,572.5 L1617.2,573.7 L1617.9,574.9 L1618.5,576.0 L1619.2,577.1 L1619.7,578.3 L1620.2,579.5 L1620.4,580.8 L1620.6,582.1 L1620.7,583.5 L1620.8,584.9 L1620.9,586.2 L1621.0,587.4 L1621.1,588.5 L1621.1,589.6 L1621.1,590.6 L1621.3,591.6 L1621.8,592.6 L1622.8,593.5 L1624.5,594.4 L1626.7,595.3 L1629.3,596.1 L1632.0,596.9 L1634.6,597.8 L1636.8,598.8 L1638.7,599.8 L1640.5,601.0 L1642.3,602.2 L1643.7,603.4 L1644.8,604.6 L1645.5,605.8 L1645.7,606.9 L1645.4,608.1 L1644.8,609.3 L1643.9,610.4 L1643.0,611.6 L1642.0,612.8 L1641.0,614.0 L1639.6,615.2 L1638.2,616.4 L1636.8,617.6 L1635.7,618.7 L1635.0,619.8 L1634.6,620.7 L1634.1,621.7 L1633.9,622.5 L1634.2,623.3 L1635.1,624.2 L1636.8,625.0 L1639.3,625.9 L1642.6,626.7 L1646.4,627.5 L1650.9,628.4 L1655.8,629.3 L1661.3,630.3 L1667.6,631.4 L1674.9,632.5 L1682.7,633.8 L1690.7,635.0 L1698.2,636.2 L1705.1,637.3 L1711.1,638.2 L1716.8,639.1 L1722.1,639.9 L1727.1,640.7 L1731.9,641.6 L1736.6,642.5 L1741.5,643.6 L1746.6,644.7 L1751.6,645.8 L1755.9,647.0 L1758.9,648.1 L1760.2,649.2 L1759.6,650.2 L1757.6,651.1 L1754.3,652.0 L1750.1,652.8 L1745.3,653.8 L1740.1,654.8 L1734.0,655.9 L1726.9,657.0 L1719.1,658.2 L1711.1,659.4 L1703.4,660.6 L1696.3,661.8 L1689.8,662.9 L1683.4,664.1 L1677.3,665.2 L1671.5,666.3 L1666.1,667.5 L1661.3,668.8 L1657.1,670.1 L1653.5,671.6 L1650.3,673.1 L1647.5,674.6 L1644.8,676.1 L1642.0,677.5 L1639.3,679.0 L1636.7,680.5 L1634.3,681.9 L1632.0,683.4 L1629.9,684.8 L1628.0,686.3 L1626.4,687.8 L1625.1,689.3 L1624.0,690.8 L1623.0,692.3 L1622.0,693.7 L1621.0,695.0 L1620.0,696.3 L1619.0,697.6 L1618.0,698.8 L1617.2,699.9 L1616.4,701.0 L1615.8,702.0 L1615.3,702.9 L1615.1,703.5 L1614.9,704.0 L1614.8,704.7 L1614.8,705.7 L1614.7,707.3 L1614.6,709.7 L1614.6,712.7 L1614.5,716.2 L1614.5,719.6 L1614.6,722.6 L1614.7,724.8 L1614.9,726.2 L1615.2,726.9 L1615.5,727.2 L1615.8,727.4 L1616.2,727.7 L1616.7,728.3 L1617.2,729.3 L1617.8,730.4 L1618.4,731.6 L1619.1,732.9 L1619.7,734.1 L1620.2,735.3 L1620.6,736.4 L1621.1,737.3 L1621.5,738.3 L1621.8,739.3 L1621.9,740.3 L1621.9,741.4 L1621.6,742.6 L1621.2,743.8 L1620.6,745.0 L1619.9,746.3 L1619.1,747.7 L1618.4,749.3 L1617.6,751.2 L1616.7,753.5 L1615.7,755.9 L1614.8,758.2 L1614.0,760.2 L1613.5,761.6 L1613.5,761.6 L1613.0,760.2 L1612.2,758.2 L1611.3,755.9 L1610.3,753.5 L1609.4,751.2 L1608.6,749.3 L1607.9,747.7 L1607.1,746.3 L1606.4,745.0 L1605.8,743.8 L1605.4,742.6 L1605.1,741.4 L1605.1,740.3 L1605.2,739.3 L1605.5,738.3 L1605.9,737.3 L1606.4,736.4 L1606.8,735.3 L1607.3,734.1 L1607.9,732.9 L1608.6,731.6 L1609.2,730.4 L1609.8,729.3 L1610.3,728.3 L1610.8,727.7 L1611.2,727.4 L1611.5,727.2 L1611.8,726.9 L1612.1,726.2 L1612.3,724.8 L1612.4,722.6 L1612.5,719.6 L1612.5,716.2 L1612.4,712.7 L1612.4,709.7 L1612.3,707.3 L1612.2,705.7 L1612.2,704.7 L1612.1,704.0 L1611.9,703.5 L1611.7,702.9 L1611.2,702.0 L1610.6,701.0 L1609.8,699.9 L1609.0,698.8 L1608.0,697.6 L1607.0,696.3 L1606.0,695.0 L1605.0,693.7 L1604.0,692.3 L1603.0,690.8 L1601.9,689.3 L1600.6,687.8 L1599.0,686.3 L1597.1,684.8 L1595.0,683.4 L1592.7,681.9 L1590.3,680.5 L1587.7,679.0 L1585.0,677.5 L1582.2,676.1 L1579.5,674.6 L1576.7,673.1 L1573.5,671.6 L1569.9,670.1 L1565.7,668.8 L1560.9,667.5 L1555.5,666.3 L1549.7,665.2 L1543.6,664.1 L1537.2,662.9 L1530.7,661.8 L1523.6,660.6 L1515.9,659.4 L1507.9,658.2 L1500.1,657.0 L1493.0,655.9 L1486.9,654.8 L1481.7,653.8 L1476.9,652.8 L1472.7,652.0 L1469.4,651.1 L1467.4,650.2 L1466.8,649.2 L1468.1,648.1 L1471.1,647.0 L1475.4,645.8 L1480.4,644.7 L1485.5,643.6 L1490.4,642.5 L1495.1,641.6 L1499.9,640.7 L1504.9,639.9 L1510.2,639.1 L1515.9,638.2 L1521.9,637.3 L1528.8,636.2 L1536.3,635.0 L1544.3,633.8 L1552.1,632.5 L1559.4,631.4 L1565.7,630.3 L1571.2,629.3 L1576.1,628.4 L1580.6,627.5 L1584.4,626.7 L1587.7,625.9 L1590.2,625.0 L1591.9,624.2 L1592.8,623.3 L1593.1,622.5 L1592.9,621.7 L1592.4,620.7 L1592.0,619.8 L1591.3,618.7 L1590.2,617.6 L1588.8,616.4 L1587.4,615.2 L1586.0,614.0 L1585.0,612.8 L1584.0,611.6 L1583.1,610.4 L1582.2,609.3 L1581.6,608.1 L1581.3,606.9 L1581.5,605.8 L1582.2,604.6 L1583.3,603.4 L1584.7,602.2 L1586.5,601.0 L1588.3,599.8 L1590.2,598.8 L1592.4,597.8 L1595.0,596.9 L1597.7,596.1 L1600.3,595.3 L1602.5,594.4 L1604.2,593.5 L1605.2,592.6 L1605.7,591.6 L1605.9,590.6 L1605.9,589.6 L1605.9,588.5 L1606.0,587.4 L1606.1,586.2 L1606.2,584.9 L1606.3,583.5 L1606.4,582.1 L1606.6,580.8 L1606.8,579.5 L1607.3,578.3 L1607.8,577.1 L1608.5,576.0 L1609.1,574.9 L1609.8,573.7 L1610.3,572.5 L1610.9,571.2 L1611.5,569.7 L1612.1,568.1 L1612.7,566.7 L1613.2,565.5 L1613.5,564.6 Z" fill="#e56844" fill-opacity="0.72" stroke="#333" stroke-width="3" stroke-linejoin="round"/>
<line x1="306.5" y1="135.7" x2="306.5" y2="148.7" stroke="#333" stroke-width="3"/>
<line x1="306.5" y1="176.7" x2="306.5" y2="190.4" stroke="#333" stroke-width="3"/>
<rect x="288.5" y="148.7" width="35.0" height="28.0" fill="#fff" stroke="#333" stroke-width="3"/>
<line x1="288.5" y1="165.8" x2="323.5" y2="165.8" stroke="#333" stroke-width="5.5"/>
<line x1="656.9" y1="136.6" x2="656.9" y2="144.0" stroke="#333" stroke-width="3"/>
<line x1="656.9" y1="162.7" x2="656.9" y2="186.8" stroke="#333" stroke-width="3"/>
<rect x="638.3" y="144.0" width="35.9" height="18.7" fill="#fff" stroke="#333" stroke-width="3"/>
<line x1="638.3" y1="151.0" x2="674.2" y2="151.0" stroke="#333" stroke-width="5.5"/>
<line x1="1261.8" y1="201.0" x2="1261.8" y2="217.8" stroke="#333" stroke-width="3"/>
<line x1="1261.8" y1="247.5" x2="1261.8" y2="257.8" stroke="#333" stroke-width="3"/>
<rect x="1243.6" y="217.8" width="35.9" height="29.7" fill="#fff" stroke="#333" stroke-width="3"/>
<line x1="1243.6" y1="239.2" x2="1279.5" y2="239.2" stroke="#333" stroke-width="5.5"/>
<line x1="1612.0" y1="180.9" x2="1612.0" y2="210.3" stroke="#333" stroke-width="3"/>
<line x1="1612.0" y1="250.6" x2="1612.0" y2="291.0" stroke="#333" stroke-width="3"/>
<rect x="1593.9" y="210.3" width="36.3" height="40.3" fill="#fff" stroke="#333" stroke-width="3"/>
<line x1="1593.9" y1="238.3" x2="1630.2" y2="238.3" stroke="#333" stroke-width="5.5"/>
<line x1="283.7" y1="604.5" x2="283.7" y2="625.5" stroke="#333" stroke-width="3"/>
<line x1="283.7" y1="648.5" x2="283.7" y2="664.8" stroke="#333" stroke-width="3"/>
<rect x="266.0" y="625.5" width="30.7" height="23.0" fill="#fff" stroke="#333" stroke-width="3"/>
<line x1="266.0" y1="641.8" x2="296.7" y2="641.8" stroke="#333" stroke-width="5.5"/>
<line x1="645.1" y1="588.3" x2="645.1" y2="626.6" stroke="#333" stroke-width="3"/>
<line x1="645.1" y1="653.4" x2="645.1" y2="672.5" stroke="#333" stroke-width="3"/>
<rect x="627.2" y="626.6" width="36.0" height="26.8" fill="#fff" stroke="#333" stroke-width="3"/>
<line x1="627.2" y1="640.4" x2="663.2" y2="640.4" stroke="#333" stroke-width="5.5"/>
<line x1="1262.9" y1="600.6" x2="1262.9" y2="632.2" stroke="#333" stroke-width="3"/>
<line x1="1262.9" y1="653.3" x2="1262.9" y2="681.0" stroke="#333" stroke-width="3"/>
<rect x="1245.1" y="632.2" width="35.4" height="21.1" fill="#fff" stroke="#333" stroke-width="3"/>
<line x1="1245.1" y1="646.6" x2="1280.5" y2="646.6" stroke="#333" stroke-width="5.5"/>
<line x1="1613.5" y1="607.5" x2="1613.5" y2="639.0" stroke="#333" stroke-width="3"/>
<line x1="1613.5" y1="660.9" x2="1613.5" y2="691.5" stroke="#333" stroke-width="3"/>
<rect x="1595.7" y="639.0" width="36.7" height="21.9" fill="#fff" stroke="#333" stroke-width="3"/>
<line x1="1595.7" y1="650.4" x2="1632.4" y2="650.4" stroke="#333" stroke-width="5.5"/>
<g fill="#000" fill-opacity="0.68"><circle cx="281.2" cy="93.3" r="5.6"/><circle cx="305.8" cy="94.0" r="5.6"/><circle cx="305.1" cy="104.2" r="5.6"/><circle cx="307.9" cy="138.4" r="5.6"/><circle cx="283.3" cy="148.0" r="5.6"/><circle cx="301.7" cy="146.6" r="5.6"/><circle cx="318.8" cy="146.6" r="5.6"/><circle cx="326.3" cy="150.0" r="5.6"/><circle cx="334.5" cy="146.6" r="5.6"/><circle cx="347.5" cy="154.8" r="5.6"/><circle cx="289.4" cy="164.4" r="5.6"/><circle cx="337.3" cy="167.8" r="5.6"/><circle cx="339.3" cy="169.9" r="5.6"/><circle cx="262.1" cy="176.7" r="5.6"/><circle cx="270.3" cy="178.1" r="5.6"/><circle cx="259.3" cy="178.1" r="5.6"/><circle cx="313.3" cy="171.2" r="5.6"/><circle cx="320.9" cy="175.4" r="5.6"/><circle cx="313.3" cy="180.8" r="5.6"/><circle cx="307.2" cy="191.8" r="5.6"/><circle cx="305.1" cy="236.9" r="5.6"/><circle cx="306.5" cy="246.5" r="5.6"/><circle cx="351.0" cy="246.5" r="5.6"/><circle cx="307.2" cy="142.5" r="5.6"/><circle cx="318.1" cy="150.7" r="5.6"/><circle cx="344.1" cy="153.5" r="5.6"/></g>
<g fill="#000" fill-opacity="0.68"><circle cx="656.5" cy="99.4" r="5.6"/><circle cx="656.5" cy="109.6" r="5.6"/><circle cx="681.6" cy="98.5" r="5.6"/><circle cx="706.7" cy="109.6" r="5.6"/><circle cx="701.1" cy="135.7" r="5.6"/><circle cx="619.3" cy="145.0" r="5.6"/><circle cx="634.2" cy="142.2" r="5.6"/><circle cx="673.2" cy="144.1" r="5.6"/><circle cx="676.0" cy="148.7" r="5.6"/><circle cx="688.1" cy="152.4" r="5.6"/><circle cx="616.5" cy="158.9" r="5.6"/><circle cx="644.4" cy="164.5" r="5.6"/><circle cx="684.4" cy="161.7" r="5.6"/><circle cx="701.1" cy="186.8" r="5.6"/><circle cx="656.9" cy="201.7" r="5.6"/><circle cx="676.0" cy="201.7" r="5.6"/><circle cx="656.9" cy="314.3" r="5.6"/><circle cx="629.5" cy="314.3" r="5.6"/><circle cx="674.2" cy="146.8" r="5.6"/><circle cx="687.2" cy="156.1" r="5.6"/></g>
<g fill="#000" fill-opacity="0.68"><circle cx="1261.8" cy="95.0" r="5.6"/><circle cx="1270.2" cy="95.0" r="5.6"/><circle cx="1236.7" cy="209.4" r="5.6"/><circle cx="1226.5" cy="219.6" r="5.6"/><circle cx="1215.3" cy="228.9" r="5.6"/><circle cx="1221.8" cy="233.6" r="5.6"/><circle cx="1210.7" cy="243.8" r="5.6"/><circle cx="1235.8" cy="240.1" r="5.6"/><circle cx="1237.6" cy="249.4" r="5.6"/><circle cx="1216.3" cy="256.8" r="5.6"/><circle cx="1226.5" cy="256.8" r="5.6"/><circle cx="1246.0" cy="255.9" r="5.6"/><circle cx="1250.7" cy="230.8" r="5.6"/><circle cx="1268.3" cy="239.2" r="5.6"/><circle cx="1280.4" cy="223.3" r="5.6"/><circle cx="1286.0" cy="201.0" r="5.6"/><circle cx="1301.8" cy="209.4" r="5.6"/><circle cx="1313.9" cy="215.0" r="5.6"/><circle cx="1289.7" cy="244.7" r="5.6"/><circle cx="1304.6" cy="249.4" r="5.6"/><circle cx="1284.2" cy="202.9" r="5.6"/></g>
<g fill="#000" fill-opacity="0.68"><circle cx="1647.3" cy="180.2" r="5.6"/><circle cx="1585.7" cy="206.2" r="5.6"/><circle cx="1622.0" cy="204.8" r="5.6"/><circle cx="1643.2" cy="204.8" r="5.6"/><circle cx="1647.3" cy="208.9" r="5.6"/><circle cx="1613.1" cy="215.7" r="5.6"/><circle cx="1654.1" cy="235.6" r="5.6"/><circle cx="1624.0" cy="236.2" r="5.6"/><circle cx="1633.6" cy="239.0" r="5.6"/><circle cx="1564.5" cy="242.4" r="5.6"/><circle cx="1599.4" cy="244.5" r="5.6"/><circle cx="1625.4" cy="244.5" r="5.6"/><circle cx="1580.9" cy="252.7" r="5.6"/><circle cx="1654.8" cy="267.0" r="5.6"/><circle cx="1565.2" cy="289.6" r="5.6"/><circle cx="1648.0" cy="291.0" r="5.6"/><circle cx="1654.1" cy="237.6" r="5.6"/><circle cx="1580.3" cy="254.7" r="5.6"/></g>
<g fill="#000" fill-opacity="0.68"><circle cx="242.1" cy="621.7" r="5.6"/><circle cx="253.6" cy="623.6" r="5.6"/><circle cx="233.5" cy="631.3" r="5.6"/><circle cx="235.4" cy="635.1" r="5.6"/><circle cx="247.9" cy="636.0" r="5.6"/><circle cx="252.6" cy="641.8" r="5.6"/><circle cx="232.5" cy="640.8" r="5.6"/><circle cx="240.2" cy="645.6" r="5.6"/><circle cx="253.6" cy="654.2" r="5.6"/><circle cx="246.9" cy="660.0" r="5.6"/><circle cx="268.9" cy="654.2" r="5.6"/><circle cx="274.7" cy="662.8" r="5.6"/><circle cx="275.6" cy="619.8" r="5.6"/><circle cx="284.2" cy="627.4" r="5.6"/><circle cx="278.5" cy="638.9" r="5.6"/><circle cx="293.8" cy="614.0" r="5.6"/><circle cx="305.3" cy="612.1" r="5.6"/><circle cx="298.6" cy="621.7" r="5.6"/><circle cx="307.2" cy="622.6" r="5.6"/><circle cx="312.9" cy="619.8" r="5.6"/><circle cx="320.6" cy="627.4" r="5.6"/><circle cx="293.8" cy="638.9" r="5.6"/><circle cx="301.5" cy="633.2" r="5.6"/><circle cx="309.1" cy="633.2" r="5.6"/><circle cx="305.3" cy="644.7" r="5.6"/><circle cx="311.0" cy="644.7" r="5.6"/><circle cx="318.7" cy="640.8" r="5.6"/><circle cx="326.4" cy="640.8" r="5.6"/><circle cx="334.0" cy="642.7" r="5.6"/><circle cx="332.1" cy="648.5" r="5.6"/><circle cx="316.8" cy="652.3" r="5.6"/><circle cx="303.4" cy="652.3" r="5.6"/><circle cx="305.3" cy="660.0" r="5.6"/><circle cx="318.7" cy="663.8" r="5.6"/><circle cx="300.5" cy="648.5" r="5.6"/><circle cx="284.2" cy="640.8" r="5.6"/><circle cx="284.2" cy="584.3" r="5.6"/><circle cx="274.7" cy="590.1" r="5.6"/><circle cx="299.5" cy="583.4" r="5.6"/><circle cx="283.3" cy="591.0" r="5.6"/><circle cx="273.7" cy="604.4" r="5.6"/><circle cx="266.0" cy="682.9" r="5.6"/><circle cx="283.3" cy="682.9" r="5.6"/><circle cx="278.5" cy="690.6" r="5.6"/><circle cx="284.2" cy="688.7" r="5.6"/><circle cx="232.5" cy="508.3" r="5.6"/><circle cx="283.3" cy="507.8" r="5.6"/><circle cx="283.3" cy="508.7" r="5.6"/><circle cx="301.5" cy="625.5" r="5.6"/><circle cx="309.1" cy="629.3" r="5.6"/><circle cx="312.9" cy="648.5" r="5.6"/></g>
<g fill="#000" fill-opacity="0.68"><circle cx="631.0" cy="587.5" r="5.6"/><circle cx="602.7" cy="594.4" r="5.6"/><circle cx="631.0" cy="612.0" r="5.6"/><circle cx="637.1" cy="618.2" r="5.6"/><circle cx="650.9" cy="611.3" r="5.6"/><circle cx="649.4" cy="618.9" r="5.6"/><circle cx="663.2" cy="617.4" r="5.6"/><circle cx="668.5" cy="609.7" r="5.6"/><circle cx="672.4" cy="618.9" r="5.6"/><circle cx="666.2" cy="626.6" r="5.6"/><circle cx="690.7" cy="617.4" r="5.6"/><circle cx="687.7" cy="623.5" r="5.6"/><circle cx="693.8" cy="628.1" r="5.6"/><circle cx="683.1" cy="631.2" r="5.6"/><circle cx="680.0" cy="638.8" r="5.6"/><circle cx="689.2" cy="640.4" r="5.6"/><circle cx="678.5" cy="648.0" r="5.6"/><circle cx="591.2" cy="624.3" r="5.6"/><circle cx="593.5" cy="638.8" r="5.6"/><circle cx="608.0" cy="637.3" r="5.6"/><circle cx="618.7" cy="630.4" r="5.6"/><circle cx="615.7" cy="641.9" r="5.6"/><circle cx="619.5" cy="647.3" r="5.6"/><circle cx="591.9" cy="650.3" r="5.6"/><circle cx="601.9" cy="652.6" r="5.6"/><circle cx="598.1" cy="657.2" r="5.6"/><circle cx="615.7" cy="654.2" r="5.6"/><circle cx="617.2" cy="663.3" r="5.6"/><circle cx="632.5" cy="666.4" r="5.6"/><circle cx="634.1" cy="652.6" r="5.6"/><circle cx="645.5" cy="653.4" r="5.6"/><circle cx="635.6" cy="631.2" r="5.6"/><circle cx="657.0" cy="633.5" r="5.6"/><circle cx="632.5" cy="646.5" r="5.6"/><circle cx="643.3" cy="640.4" r="5.6"/><circle cx="669.3" cy="657.2" r="5.6"/><circle cx="676.2" cy="661.0" r="5.6"/><circle cx="676.2" cy="671.0" r="5.6"/><circle cx="698.4" cy="652.6" r="5.6"/><circle cx="693.8" cy="662.6" r="5.6"/><circle cx="698.4" cy="663.3" r="5.6"/><circle cx="644.8" cy="710.8" r="5.6"/><circle cx="649.4" cy="710.8" r="5.6"/><circle cx="644.8" cy="735.3" r="5.6"/><circle cx="676.9" cy="736.1" r="5.6"/></g>
<g fill="#000" fill-opacity="0.68"><circle cx="1263.3" cy="508.7" r="5.6"/><circle cx="1252.7" cy="509.7" r="5.6"/><circle cx="1310.2" cy="508.7" r="5.6"/><circle cx="1263.3" cy="598.7" r="5.6"/><circle cx="1245.1" cy="603.5" r="5.6"/><circle cx="1288.2" cy="605.4" r="5.6"/><circle cx="1271.9" cy="609.2" r="5.6"/><circle cx="1235.5" cy="612.1" r="5.6"/><circle cx="1230.7" cy="616.9" r="5.6"/><circle cx="1254.7" cy="616.9" r="5.6"/><circle cx="1296.8" cy="612.1" r="5.6"/><circle cx="1294.9" cy="617.9" r="5.6"/><circle cx="1258.5" cy="623.6" r="5.6"/><circle cx="1313.1" cy="628.4" r="5.6"/><circle cx="1278.6" cy="629.3" r="5.6"/><circle cx="1302.5" cy="631.3" r="5.6"/><circle cx="1225.0" cy="632.2" r="5.6"/><circle cx="1220.2" cy="638.9" r="5.6"/><circle cx="1254.7" cy="637.0" r="5.6"/><circle cx="1292.9" cy="637.0" r="5.6"/><circle cx="1306.4" cy="638.9" r="5.6"/><circle cx="1226.9" cy="642.7" r="5.6"/><circle cx="1238.4" cy="643.7" r="5.6"/><circle cx="1252.7" cy="644.7" r="5.6"/><circle cx="1212.5" cy="648.5" r="5.6"/><circle cx="1213.5" cy="653.3" r="5.6"/><circle cx="1224.0" cy="648.5" r="5.6"/><circle cx="1230.7" cy="649.4" r="5.6"/><circle cx="1241.3" cy="648.5" r="5.6"/><circle cx="1258.5" cy="648.5" r="5.6"/><circle cx="1266.1" cy="648.5" r="5.6"/><circle cx="1285.3" cy="644.7" r="5.6"/><circle cx="1288.2" cy="652.3" r="5.6"/><circle cx="1298.7" cy="648.5" r="5.6"/><circle cx="1300.6" cy="658.1" r="5.6"/><circle cx="1313.1" cy="653.3" r="5.6"/><circle cx="1312.1" cy="663.8" r="5.6"/><circle cx="1291.0" cy="658.1" r="5.6"/><circle cx="1271.9" cy="659.0" r="5.6"/><circle cx="1246.0" cy="656.1" r="5.6"/><circle cx="1235.5" cy="661.9" r="5.6"/><circle cx="1212.5" cy="663.8" r="5.6"/><circle cx="1212.5" cy="671.5" r="5.6"/><circle cx="1281.5" cy="669.5" r="5.6"/><circle cx="1264.2" cy="679.1" r="5.6"/><circle cx="1263.3" cy="682.9" r="5.6"/><circle cx="1305.4" cy="661.9" r="5.6"/><circle cx="1282.4" cy="652.3" r="5.6"/></g>
<g fill="#000" fill-opacity="0.68"><circle cx="1613.5" cy="586.5" r="5.6"/><circle cx="1651.7" cy="585.6" r="5.6"/><circle cx="1614.0" cy="604.0" r="5.6"/><circle cx="1633.3" cy="607.5" r="5.6"/><circle cx="1650.8" cy="607.5" r="5.6"/><circle cx="1564.2" cy="610.1" r="5.6"/><circle cx="1570.3" cy="617.1" r="5.6"/><circle cx="1614.0" cy="623.3" r="5.6"/><circle cx="1590.4" cy="634.6" r="5.6"/><circle cx="1600.0" cy="637.3" r="5.6"/><circle cx="1638.6" cy="635.5" r="5.6"/><circle cx="1645.6" cy="635.5" r="5.6"/><circle cx="1649.1" cy="637.3" r="5.6"/><circle cx="1580.8" cy="645.2" r="5.6"/><circle cx="1579.0" cy="647.8" r="5.6"/><circle cx="1563.3" cy="646.0" r="5.6"/><circle cx="1656.1" cy="642.5" r="5.6"/><circle cx="1650.8" cy="651.3" r="5.6"/><circle cx="1665.7" cy="652.2" r="5.6"/><circle cx="1575.5" cy="653.0" r="5.6"/><circle cx="1559.8" cy="654.8" r="5.6"/><circle cx="1560.7" cy="660.0" r="5.6"/><circle cx="1560.7" cy="667.0" r="5.6"/><circle cx="1573.8" cy="663.5" r="5.6"/><circle cx="1586.0" cy="663.5" r="5.6"/><circle cx="1598.3" cy="661.8" r="5.6"/><circle cx="1636.8" cy="660.9" r="5.6"/><circle cx="1649.1" cy="661.8" r="5.6"/><circle cx="1619.3" cy="668.8" r="5.6"/><circle cx="1621.1" cy="674.0" r="5.6"/><circle cx="1580.8" cy="674.0" r="5.6"/><circle cx="1619.3" cy="684.5" r="5.6"/><circle cx="1607.0" cy="691.5" r="5.6"/><circle cx="1565.0" cy="684.5" r="5.6"/><circle cx="1573.8" cy="740.6" r="5.6"/><circle cx="1613.5" cy="740.6" r="5.6"/><circle cx="1642.1" cy="649.5" r="5.6"/><circle cx="1589.5" cy="646.0" r="5.6"/><circle cx="1589.5" cy="656.5" r="5.6"/></g>
<text x="0" y="0" font-size="34.0" fill="#222" transform="translate(419.00 134.40) scale(1 1.03)" stroke="#222" stroke-width="0.7">p = 0.65</text>
<text x="0" y="0" font-size="34.0" fill="#222" transform="translate(1384.10 138.40) scale(1 1.03)" stroke="#222" stroke-width="0.7">p = 0.2</text>
<text x="0" y="0" font-size="34.0" fill="#222" transform="translate(401.50 579.00) scale(1 1.03)" stroke="#222" stroke-width="0.7">p = 0.14</text>
<text x="0" y="0" font-size="34.0" fill="#222" transform="translate(1365.50 548.40) scale(1 1.03)" stroke="#222" stroke-width="0.7">p = 0.028</text>
<text x="6.7" y="863.0" font-size="31.5" fill="#000" font-weight="bold">e</text>
<text x="428.3" y="915.9" font-size="30.4" fill="#000" text-anchor="middle">PD-L1 vs M1 macrophages</text>
<line x1="93.8" y1="942.0" x2="93.8" y2="1352.7" stroke="#000" stroke-width="3.2"/>
<line x1="92.2" y1="1351.0" x2="736.4" y2="1351.0" stroke="#000" stroke-width="3.4"/>
<line x1="85.5" y1="1028.3" x2="93.8" y2="1028.3" stroke="#333" stroke-width="3"/>
<text x="81.6" y="1038.9" font-size="27.5" fill="#666" text-anchor="end">9</text>
<line x1="85.5" y1="1129.7" x2="93.8" y2="1129.7" stroke="#333" stroke-width="3"/>
<text x="81.6" y="1140.3" font-size="27.5" fill="#666" text-anchor="end">6</text>
<line x1="85.5" y1="1231.1" x2="93.8" y2="1231.1" stroke="#333" stroke-width="3"/>
<text x="81.6" y="1241.7" font-size="27.5" fill="#666" text-anchor="end">3</text>
<line x1="85.5" y1="1332.5" x2="93.8" y2="1332.5" stroke="#333" stroke-width="3"/>
<text x="81.6" y="1343.1" font-size="27.5" fill="#666" text-anchor="end">0</text>
<line x1="119.1" y1="1351.0" x2="119.1" y2="1358.5" stroke="#333" stroke-width="3.4"/>
<text x="119.7" y="1385.0" font-size="27.5" fill="#666" text-anchor="middle">0</text>
<line x1="274.8" y1="1351.0" x2="274.8" y2="1358.5" stroke="#333" stroke-width="3.4"/>
<text x="278.1" y="1385.0" font-size="27.5" fill="#666" text-anchor="middle">20</text>
<line x1="430.5" y1="1351.0" x2="430.5" y2="1358.5" stroke="#333" stroke-width="3.4"/>
<text x="433.8" y="1385.0" font-size="27.5" fill="#666" text-anchor="middle">40</text>
<line x1="586.2" y1="1351.0" x2="586.2" y2="1358.5" stroke="#333" stroke-width="3.4"/>
<text x="589.5" y="1385.0" font-size="27.5" fill="#666" text-anchor="middle">60</text>
<text x="442.8" y="1419.7" font-size="30.3" fill="#000" text-anchor="middle">mean PD-L1 expression</text>
<text x="319.0" y="1045.5" font-size="27.5" fill="#1A1AD8">Spearman's R = 0.6</text>
<text x="315.0" y="1105.5" font-size="27.5" fill="#1A1AD8">p−value &lt; 0.001</text>
<text x="808.6" y="861.0" font-size="31.5" fill="#000" font-weight="bold">f</text>
<text x="1166.7" y="921.7" font-size="30.4" fill="#000" text-anchor="middle">PD-L1 vs M2 macrophages</text>
<line x1="830.0" y1="942.0" x2="830.0" y2="1352.7" stroke="#000" stroke-width="3.2"/>
<line x1="828.4" y1="1351.0" x2="1473.8" y2="1351.0" stroke="#000" stroke-width="3.4"/>
<line x1="821.7" y1="1028.3" x2="830.0" y2="1028.3" stroke="#333" stroke-width="3"/>
<text x="818.0" y="1038.9" font-size="27.5" fill="#666" text-anchor="end">9</text>
<line x1="821.7" y1="1129.7" x2="830.0" y2="1129.7" stroke="#333" stroke-width="3"/>
<text x="818.0" y="1140.3" font-size="27.5" fill="#666" text-anchor="end">6</text>
<line x1="821.7" y1="1231.1" x2="830.0" y2="1231.1" stroke="#333" stroke-width="3"/>
<text x="818.0" y="1241.7" font-size="27.5" fill="#666" text-anchor="end">3</text>
<line x1="821.7" y1="1332.3" x2="830.0" y2="1332.3" stroke="#333" stroke-width="3"/>
<text x="818.0" y="1342.9" font-size="27.5" fill="#666" text-anchor="end">0</text>
<line x1="858.7" y1="1351.0" x2="858.7" y2="1358.5" stroke="#333" stroke-width="3.4"/>
<text x="859.3" y="1385.0" font-size="27.5" fill="#666" text-anchor="middle">0</text>
<line x1="1022.1" y1="1351.0" x2="1022.1" y2="1358.5" stroke="#333" stroke-width="3.4"/>
<text x="1025.4" y="1385.0" font-size="27.5" fill="#666" text-anchor="middle">20</text>
<line x1="1185.4" y1="1351.0" x2="1185.4" y2="1358.5" stroke="#333" stroke-width="3.4"/>
<text x="1188.7" y="1385.0" font-size="27.5" fill="#666" text-anchor="middle">40</text>
<line x1="1348.8" y1="1351.0" x2="1348.8" y2="1358.5" stroke="#333" stroke-width="3.4"/>
<text x="1352.1" y="1385.0" font-size="27.5" fill="#666" text-anchor="middle">60</text>
<text x="1205.7" y="1420.6" font-size="30.3" fill="#000" text-anchor="middle">mean PD-L1 expression</text>
<text x="1032.0" y="1045.5" font-size="27.5" fill="#1A1AD8">Spearman's R = 0.57</text>
<text x="1034.0" y="1100.5" font-size="27.5" fill="#1A1AD8">p−value &lt; 0.001</text>
<text x="6.7" y="1423.0" font-size="31.5" fill="#000" font-weight="bold">g</text>
<text x="440.0" y="1484.3" font-size="30.4" fill="#000" text-anchor="middle">PD-L1 vs CD14 myeloid cells</text>
<line x1="93.7" y1="1504.0" x2="93.7" y2="1914.5" stroke="#000" stroke-width="3.2"/>
<line x1="92.1" y1="1912.8" x2="737.0" y2="1912.8" stroke="#000" stroke-width="3.4"/>
<line x1="85.4" y1="1589.1" x2="93.7" y2="1589.1" stroke="#333" stroke-width="3"/>
<text x="81.6" y="1599.7" font-size="27.5" fill="#666" text-anchor="end">9</text>
<line x1="85.4" y1="1690.7" x2="93.7" y2="1690.7" stroke="#333" stroke-width="3"/>
<text x="81.6" y="1701.3" font-size="27.5" fill="#666" text-anchor="end">6</text>
<line x1="85.4" y1="1792.4" x2="93.7" y2="1792.4" stroke="#333" stroke-width="3"/>
<text x="81.6" y="1803.0" font-size="27.5" fill="#666" text-anchor="end">3</text>
<line x1="85.4" y1="1894.0" x2="93.7" y2="1894.0" stroke="#333" stroke-width="3"/>
<text x="81.6" y="1904.6" font-size="27.5" fill="#666" text-anchor="end">0</text>
<line x1="117.2" y1="1912.8" x2="117.2" y2="1920.3" stroke="#333" stroke-width="3.4"/>
<text x="117.8" y="1946.8" font-size="27.5" fill="#666" text-anchor="middle">0</text>
<line x1="247.7" y1="1912.8" x2="247.7" y2="1920.3" stroke="#333" stroke-width="3.4"/>
<text x="248.3" y="1946.8" font-size="27.5" fill="#666" text-anchor="middle">5</text>
<line x1="378.2" y1="1912.8" x2="378.2" y2="1920.3" stroke="#333" stroke-width="3.4"/>
<text x="381.5" y="1946.8" font-size="27.5" fill="#666" text-anchor="middle">10</text>
<line x1="508.7" y1="1912.8" x2="508.7" y2="1920.3" stroke="#333" stroke-width="3.4"/>
<text x="512.0" y="1946.8" font-size="27.5" fill="#666" text-anchor="middle">15</text>
<line x1="639.2" y1="1912.8" x2="639.2" y2="1920.3" stroke="#333" stroke-width="3.4"/>
<text x="642.5" y="1946.8" font-size="27.5" fill="#666" text-anchor="middle">20</text>
<text x="439.9" y="1987.5" font-size="30.3" fill="#000" text-anchor="middle">mean PD-L1 expression</text>
<text x="295.0" y="1607.5" font-size="27.5" fill="#1A1AD8">Spearman's R = 0.66</text>
<text x="290.0" y="1660.5" font-size="27.5" fill="#1A1AD8">p−value &lt; 0.001</text>
<text x="823.2" y="1427.0" font-size="31.5" fill="#000" font-weight="bold">h</text>
<text x="1194.5" y="1484.1" font-size="30.4" fill="#000" text-anchor="middle">PD-L1 vs panCK</text>
<line x1="883.4" y1="1504.0" x2="883.4" y2="1914.5" stroke="#000" stroke-width="3.2"/>
<line x1="881.8" y1="1912.8" x2="1473.8" y2="1912.8" stroke="#000" stroke-width="3.4"/>
<line x1="875.1" y1="1580.9" x2="883.4" y2="1580.9" stroke="#333" stroke-width="3"/>
<text x="875.4" y="1591.5" font-size="27.5" fill="#666" text-anchor="end">30000</text>
<line x1="875.1" y1="1685.2" x2="883.4" y2="1685.2" stroke="#333" stroke-width="3"/>
<text x="875.4" y="1695.8" font-size="27.5" fill="#666" text-anchor="end">20000</text>
<line x1="875.1" y1="1789.6" x2="883.4" y2="1789.6" stroke="#333" stroke-width="3"/>
<text x="875.4" y="1800.2" font-size="27.5" fill="#666" text-anchor="end">10000</text>
<line x1="875.1" y1="1893.9" x2="883.4" y2="1893.9" stroke="#333" stroke-width="3"/>
<text x="875.4" y="1904.5" font-size="27.5" fill="#666" text-anchor="end">0</text>
<line x1="910.2" y1="1912.8" x2="910.2" y2="1920.3" stroke="#333" stroke-width="3.4"/>
<text x="910.8" y="1946.8" font-size="27.5" fill="#666" text-anchor="middle">0</text>
<line x1="1064.7" y1="1912.8" x2="1064.7" y2="1920.3" stroke="#333" stroke-width="3.4"/>
<text x="1068.0" y="1946.8" font-size="27.5" fill="#666" text-anchor="middle">25000</text>
<line x1="1219.2" y1="1912.8" x2="1219.2" y2="1920.3" stroke="#333" stroke-width="3.4"/>
<text x="1222.5" y="1946.8" font-size="27.5" fill="#666" text-anchor="middle">50000</text>
<line x1="1373.7" y1="1912.8" x2="1373.7" y2="1920.3" stroke="#333" stroke-width="3.4"/>
<text x="1377.0" y="1946.8" font-size="27.5" fill="#666" text-anchor="middle">75000</text>
<text x="1237.8" y="1989.1" font-size="30.3" fill="#000" text-anchor="middle">mean PD-L1 expression</text>
<text x="1032.0" y="1607.5" font-size="27.5" fill="#1A1AD8">Spearman's R = 0.13</text>
<text x="1028.0" y="1662.5" font-size="27.5" fill="#1A1AD8">p−value = 0.169</text>
<g fill="#000"><circle cx="184.8" cy="960.8" r="6.4"/><circle cx="163.2" cy="986.0" r="6.4"/><circle cx="242.8" cy="1029.5" r="6.4"/><circle cx="201.2" cy="1042.8" r="6.4"/><circle cx="210.7" cy="1040.1" r="6.4"/><circle cx="171.1" cy="1062.3" r="6.4"/><circle cx="205.3" cy="1065.3" r="6.4"/><circle cx="173.3" cy="1080.0" r="6.4"/><circle cx="211.8" cy="1099.7" r="6.4"/><circle cx="142.7" cy="1127.6" r="6.4"/><circle cx="158.3" cy="1150.9" r="6.4"/><circle cx="138.5" cy="1213.5" r="6.4"/><circle cx="159.4" cy="1222.8" r="6.4"/><circle cx="176.3" cy="1233.5" r="6.4"/><circle cx="198.2" cy="1232.2" r="6.4"/><circle cx="236.0" cy="1235.0" r="6.4"/><circle cx="155.8" cy="1242.8" r="6.4"/><circle cx="162.4" cy="1246.7" r="6.4"/><circle cx="184.5" cy="1248.9" r="6.4"/><circle cx="187.5" cy="1257.0" r="6.4"/><circle cx="124.6" cy="1265.3" r="6.4"/><circle cx="154.2" cy="1264.7" r="6.4"/><circle cx="166.2" cy="1264.7" r="6.4"/><circle cx="176.6" cy="1263.6" r="6.4"/><circle cx="191.9" cy="1265.8" r="6.4"/><circle cx="154.2" cy="1270.7" r="6.4"/><circle cx="275.8" cy="1259.3" r="6.4"/><circle cx="130.6" cy="1279.0" r="6.4"/><circle cx="172.8" cy="1280.6" r="6.4"/><circle cx="185.9" cy="1280.0" r="6.4"/><circle cx="218.9" cy="1286.3" r="6.4"/><circle cx="292.2" cy="1282.8" r="6.4"/><circle cx="188.1" cy="1296.5" r="6.4"/><circle cx="199.0" cy="1299.7" r="6.4"/><circle cx="200.7" cy="1303.0" r="6.4"/><circle cx="216.0" cy="1308.5" r="6.4"/><circle cx="178.8" cy="1308.5" r="6.4"/><circle cx="233.8" cy="1320.0" r="6.4"/><circle cx="170.0" cy="1330.4" r="6.4"/><circle cx="122.8" cy="1302.7" r="6.4"/><circle cx="161.9" cy="1295.9" r="6.4"/><circle cx="149.9" cy="1297.5" r="6.4"/><circle cx="137.3" cy="1298.0" r="6.4"/><circle cx="174.5" cy="1298.6" r="6.4"/><circle cx="187.0" cy="1296.4" r="6.4"/><circle cx="198.0" cy="1301.9" r="6.4"/><circle cx="125.2" cy="1316.1" r="6.4"/><circle cx="135.6" cy="1306.3" r="6.4"/><circle cx="154.2" cy="1304.6" r="6.4"/><circle cx="178.3" cy="1309.0" r="6.4"/><circle cx="174.5" cy="1315.6" r="6.4"/><circle cx="169.6" cy="1321.0" r="6.4"/><circle cx="170.6" cy="1332.0" r="6.4"/><circle cx="123.0" cy="1332.5" r="6.4"/><circle cx="131.3" cy="1331.4" r="6.4"/><circle cx="143.3" cy="1332.0" r="6.4"/><circle cx="154.2" cy="1332.0" r="6.4"/><circle cx="159.7" cy="1323.8" r="6.4"/><circle cx="143.3" cy="1318.3" r="6.4"/><circle cx="137.8" cy="1312.8" r="6.4"/><circle cx="148.8" cy="1312.8" r="6.4"/><circle cx="158.6" cy="1312.8" r="6.4"/><circle cx="129.6" cy="1323.8" r="6.4"/><circle cx="148.8" cy="1323.8" r="6.4"/><circle cx="175.0" cy="1282.7" r="6.4"/><circle cx="186.0" cy="1282.7" r="6.4"/><circle cx="132.4" cy="1281.0" r="6.4"/><circle cx="708.0" cy="1147.5" r="6.4"/><circle cx="377.4" cy="1211.3" r="6.4"/></g>
<g fill="#000"><circle cx="879.9" cy="961.0" r="6.4"/><circle cx="894.7" cy="986.0" r="6.4"/><circle cx="977.6" cy="1029.7" r="6.4"/><circle cx="1004.7" cy="1040.4" r="6.4"/><circle cx="886.5" cy="1042.3" r="6.4"/><circle cx="874.8" cy="1062.3" r="6.4"/><circle cx="957.3" cy="1065.3" r="6.4"/><circle cx="886.0" cy="1080.3" r="6.4"/><circle cx="893.9" cy="1128.0" r="6.4"/><circle cx="994.3" cy="1147.4" r="6.4"/><circle cx="910.6" cy="1213.5" r="6.4"/><circle cx="870.4" cy="1233.0" r="6.4"/><circle cx="948.3" cy="1233.5" r="6.4"/><circle cx="922.6" cy="1243.4" r="6.4"/><circle cx="864.6" cy="1246.7" r="6.4"/><circle cx="975.4" cy="1248.3" r="6.4"/><circle cx="906.4" cy="1258.2" r="6.4"/><circle cx="860.2" cy="1265.3" r="6.4"/><circle cx="876.1" cy="1266.9" r="6.4"/><circle cx="884.9" cy="1266.9" r="6.4"/><circle cx="890.9" cy="1265.3" r="6.4"/><circle cx="952.1" cy="1266.9" r="6.4"/><circle cx="971.3" cy="1270.7" r="6.4"/><circle cx="865.2" cy="1279.0" r="6.4"/><circle cx="880.5" cy="1280.0" r="6.4"/><circle cx="918.8" cy="1280.0" r="6.4"/><circle cx="957.3" cy="1282.8" r="6.4"/><circle cx="891.4" cy="1286.6" r="6.4"/><circle cx="904.0" cy="1286.6" r="6.4"/><circle cx="1010.5" cy="1297.0" r="6.4"/><circle cx="908.4" cy="1298.6" r="6.4"/><circle cx="986.4" cy="1307.4" r="6.4"/><circle cx="923.7" cy="1305.2" r="6.4"/><circle cx="916.6" cy="1312.9" r="6.4"/><circle cx="907.3" cy="1317.2" r="6.4"/><circle cx="918.6" cy="1328.2" r="6.4"/><circle cx="861.9" cy="1302.0" r="6.4"/><circle cx="872.8" cy="1295.4" r="6.4"/><circle cx="886.0" cy="1295.4" r="6.4"/><circle cx="894.7" cy="1297.5" r="6.4"/><circle cx="861.9" cy="1310.7" r="6.4"/><circle cx="872.8" cy="1308.5" r="6.4"/><circle cx="892.5" cy="1306.3" r="6.4"/><circle cx="860.8" cy="1321.6" r="6.4"/><circle cx="872.8" cy="1320.5" r="6.4"/><circle cx="886.0" cy="1319.4" r="6.4"/><circle cx="894.7" cy="1317.2" r="6.4"/><circle cx="859.7" cy="1331.5" r="6.4"/><circle cx="870.6" cy="1332.6" r="6.4"/><circle cx="881.6" cy="1330.4" r="6.4"/><circle cx="890.3" cy="1332.6" r="6.4"/><circle cx="867.4" cy="1326.0" r="6.4"/><circle cx="878.3" cy="1326.0" r="6.4"/><circle cx="889.2" cy="1326.0" r="6.4"/><circle cx="867.4" cy="1302.0" r="6.4"/><circle cx="883.8" cy="1306.3" r="6.4"/><circle cx="881.6" cy="1315.0" r="6.4"/><circle cx="1161.8" cy="1151.5" r="6.4"/><circle cx="1104.3" cy="1271.9" r="6.4"/><circle cx="1219.9" cy="1223.1" r="6.4"/><circle cx="1286.3" cy="1211.2" r="6.4"/><circle cx="1262.9" cy="1259.4" r="6.4"/><circle cx="1444.0" cy="1099.1" r="6.4"/></g>
<g fill="#000"><circle cx="206.1" cy="1521.9" r="6.4"/><circle cx="178.2" cy="1547.3" r="6.4"/><circle cx="267.2" cy="1590.6" r="6.4"/><circle cx="274.5" cy="1601.2" r="6.4"/><circle cx="260.6" cy="1603.9" r="6.4"/><circle cx="183.4" cy="1623.6" r="6.4"/><circle cx="245.0" cy="1626.4" r="6.4"/><circle cx="220.1" cy="1641.4" r="6.4"/><circle cx="268.5" cy="1660.6" r="6.4"/><circle cx="223.1" cy="1689.1" r="6.4"/><circle cx="176.4" cy="1774.9" r="6.4"/><circle cx="256.7" cy="1772.2" r="6.4"/><circle cx="168.4" cy="1796.1" r="6.4"/><circle cx="206.1" cy="1793.5" r="6.4"/><circle cx="164.3" cy="1807.8" r="6.4"/><circle cx="220.9" cy="1804.5" r="6.4"/><circle cx="230.7" cy="1810.0" r="6.4"/><circle cx="216.0" cy="1819.3" r="6.4"/><circle cx="153.1" cy="1826.4" r="6.4"/><circle cx="164.6" cy="1826.4" r="6.4"/><circle cx="185.3" cy="1827.5" r="6.4"/><circle cx="196.3" cy="1826.9" r="6.4"/><circle cx="202.3" cy="1826.9" r="6.4"/><circle cx="259.7" cy="1825.8" r="6.4"/><circle cx="291.5" cy="1832.9" r="6.4"/><circle cx="246.6" cy="1825.8" r="6.4"/><circle cx="245.0" cy="1832.4" r="6.4"/><circle cx="174.2" cy="1839.5" r="6.4"/><circle cx="224.7" cy="1841.1" r="6.4"/><circle cx="210.0" cy="1843.3" r="6.4"/><circle cx="200.1" cy="1846.6" r="6.4"/><circle cx="238.4" cy="1847.2" r="6.4"/><circle cx="222.5" cy="1850.4" r="6.4"/><circle cx="238.4" cy="1860.3" r="6.4"/><circle cx="253.7" cy="1858.1" r="6.4"/><circle cx="256.5" cy="1867.4" r="6.4"/><circle cx="273.4" cy="1868.5" r="6.4"/><circle cx="280.5" cy="1885.4" r="6.4"/><circle cx="123.0" cy="1893.7" r="6.4"/><circle cx="206.7" cy="1864.1" r="6.4"/><circle cx="197.9" cy="1859.7" r="6.4"/><circle cx="201.2" cy="1874.0" r="6.4"/><circle cx="183.2" cy="1859.7" r="6.4"/><circle cx="167.3" cy="1858.1" r="6.4"/><circle cx="122.4" cy="1894.2" r="6.4"/><circle cx="138.3" cy="1867.4" r="6.4"/><circle cx="144.8" cy="1866.3" r="6.4"/><circle cx="154.7" cy="1868.4" r="6.4"/><circle cx="165.6" cy="1858.1" r="6.4"/><circle cx="172.2" cy="1866.3" r="6.4"/><circle cx="183.1" cy="1859.1" r="6.4"/><circle cx="197.3" cy="1858.6" r="6.4"/><circle cx="199.5" cy="1848.2" r="6.4"/><circle cx="206.1" cy="1863.0" r="6.4"/><circle cx="201.2" cy="1873.9" r="6.4"/><circle cx="180.4" cy="1870.6" r="6.4"/><circle cx="138.3" cy="1876.1" r="6.4"/><circle cx="150.3" cy="1875.6" r="6.4"/><circle cx="161.2" cy="1875.0" r="6.4"/><circle cx="172.2" cy="1876.1" r="6.4"/><circle cx="133.9" cy="1883.8" r="6.4"/><circle cx="144.8" cy="1883.8" r="6.4"/><circle cx="155.8" cy="1883.8" r="6.4"/><circle cx="166.7" cy="1883.8" r="6.4"/><circle cx="177.6" cy="1882.7" r="6.4"/><circle cx="187.5" cy="1882.7" r="6.4"/><circle cx="140.4" cy="1892.5" r="6.4"/><circle cx="151.4" cy="1892.5" r="6.4"/><circle cx="164.0" cy="1892.5" r="6.4"/><circle cx="174.9" cy="1892.5" r="6.4"/><circle cx="188.6" cy="1892.0" r="6.4"/><circle cx="196.2" cy="1890.9" r="6.4"/><circle cx="172.2" cy="1841.1" r="6.4"/><circle cx="475.0" cy="1708.0" r="6.4"/><circle cx="557.0" cy="1795.0" r="6.4"/><circle cx="708.0" cy="1783.8" r="6.4"/><circle cx="376.2" cy="1712.6" r="6.4"/></g>
<g fill="#000"><circle cx="1183.9" cy="1521.9" r="6.4"/><circle cx="1124.6" cy="1538.9" r="6.4"/><circle cx="1183.9" cy="1560.2" r="6.4"/><circle cx="954.1" cy="1599.6" r="6.4"/><circle cx="1007.1" cy="1665.2" r="6.4"/><circle cx="1114.7" cy="1691.5" r="6.4"/><circle cx="1033.3" cy="1729.8" r="6.4"/><circle cx="997.2" cy="1738.1" r="6.4"/><circle cx="911.4" cy="1768.1" r="6.4"/><circle cx="933.8" cy="1798.5" r="6.4"/><circle cx="909.7" cy="1830.9" r="6.4"/><circle cx="928.3" cy="1828.7" r="6.4"/><circle cx="944.7" cy="1832.0" r="6.4"/><circle cx="934.9" cy="1838.0" r="6.4"/><circle cx="910.8" cy="1844.6" r="6.4"/><circle cx="910.2" cy="1854.4" r="6.4"/><circle cx="965.5" cy="1842.4" r="6.4"/><circle cx="981.4" cy="1844.6" r="6.4"/><circle cx="1038.0" cy="1827.6" r="6.4"/><circle cx="1077.5" cy="1838.0" r="6.4"/><circle cx="1082.8" cy="1858.7" r="6.4"/><circle cx="1029.0" cy="1855.5" r="6.4"/><circle cx="1119.4" cy="1866.9" r="6.4"/><circle cx="1097.5" cy="1877.7" r="6.4"/><circle cx="1104.1" cy="1890.4" r="6.4"/><circle cx="1138.6" cy="1891.0" r="6.4"/><circle cx="1169.7" cy="1886.0" r="6.4"/><circle cx="1179.6" cy="1879.4" r="6.4"/><circle cx="1176.3" cy="1889.3" r="6.4"/><circle cx="1189.4" cy="1892.5" r="6.4"/><circle cx="1202.5" cy="1887.1" r="6.4"/><circle cx="1204.7" cy="1892.5" r="6.4"/><circle cx="1235.8" cy="1882.3" r="6.4"/><circle cx="1246.3" cy="1889.3" r="6.4"/><circle cx="1313.0" cy="1846.6" r="6.4"/><circle cx="1356.1" cy="1871.8" r="6.4"/><circle cx="1367.3" cy="1877.2" r="6.4"/><circle cx="1380.9" cy="1884.9" r="6.4"/><circle cx="1407.6" cy="1881.2" r="6.4"/><circle cx="1446.5" cy="1870.2" r="6.4"/><circle cx="1293.5" cy="1745.2" r="6.4"/><circle cx="910.9" cy="1844.8" r="6.4"/><circle cx="910.0" cy="1854.4" r="6.4"/><circle cx="965.4" cy="1843.0" r="6.4"/><circle cx="981.0" cy="1844.8" r="6.4"/><circle cx="922.7" cy="1864.1" r="6.4"/><circle cx="941.9" cy="1862.9" r="6.4"/><circle cx="950.4" cy="1865.3" r="6.4"/><circle cx="971.4" cy="1862.9" r="6.4"/><circle cx="976.2" cy="1868.9" r="6.4"/><circle cx="920.3" cy="1873.7" r="6.4"/><circle cx="932.3" cy="1873.7" r="6.4"/><circle cx="978.0" cy="1873.7" r="6.4"/><circle cx="965.4" cy="1880.9" r="6.4"/><circle cx="913.1" cy="1886.3" r="6.4"/><circle cx="928.7" cy="1886.9" r="6.4"/><circle cx="910.0" cy="1894.2" r="6.4"/><circle cx="921.5" cy="1894.2" r="6.4"/><circle cx="932.3" cy="1892.9" r="6.4"/><circle cx="946.1" cy="1885.7" r="6.4"/><circle cx="946.7" cy="1892.3" r="6.4"/><circle cx="955.2" cy="1888.1" r="6.4"/><circle cx="964.2" cy="1888.1" r="6.4"/><circle cx="976.2" cy="1892.9" r="6.4"/><circle cx="988.3" cy="1892.9" r="6.4"/><circle cx="1003.3" cy="1876.1" r="6.4"/><circle cx="1003.3" cy="1888.1" r="6.4"/><circle cx="1020.3" cy="1867.7" r="6.4"/><circle cx="1013.1" cy="1872.5" r="6.4"/><circle cx="1005.2" cy="1877.3" r="6.4"/><circle cx="1044.3" cy="1865.9" r="6.4"/><circle cx="1043.1" cy="1875.5" r="6.4"/><circle cx="1052.8" cy="1873.7" r="6.4"/><circle cx="1060.6" cy="1876.1" r="6.4"/><circle cx="1006.4" cy="1888.1" r="6.4"/><circle cx="1019.1" cy="1880.9" r="6.4"/><circle cx="1026.3" cy="1880.9" r="6.4"/><circle cx="1033.5" cy="1885.7" r="6.4"/><circle cx="1029.3" cy="1892.9" r="6.4"/><circle cx="1038.3" cy="1894.2" r="6.4"/><circle cx="1044.9" cy="1891.7" r="6.4"/><circle cx="1055.8" cy="1891.7" r="6.4"/><circle cx="995.0" cy="1891.1" r="6.4"/></g>
<line x1="121.9" y1="1293.5" x2="708" y2="1038.7" stroke="#4466F2" stroke-width="6.2"/>
<line x1="858" y1="1291" x2="1444" y2="1103.7" stroke="#4466F2" stroke-width="6.2"/>
<line x1="122.4" y1="1865.2" x2="708" y2="1638.2" stroke="#4466F2" stroke-width="6.2"/>
<line x1="909.7" y1="1865.3" x2="1446.5" y2="1823.6" stroke="#4466F2" stroke-width="6.2"/>
<text x="51.2" y="1120.5" font-size="30.2" fill="#000" text-anchor="middle" transform="rotate(-90 51.2 1120.5)">mean M1 macrophages proportion</text>
<text x="787.2" y="1130.6" font-size="30.2" fill="#000" text-anchor="middle" transform="rotate(-90 787.2 1130.6)">mean M2 macrophages proportion</text>
<text x="51.0" y="1682.5" font-size="30.2" fill="#000" text-anchor="middle" transform="rotate(-90 51.0 1682.5)">mean CD14+ myeloid cells proportion</text>
<text x="788.4" y="1686.5" font-size="30.2" fill="#000" text-anchor="middle" transform="rotate(-90 788.4 1686.5)">mean panCK+ tumor cells proportion</text>
</svg></body></html>
